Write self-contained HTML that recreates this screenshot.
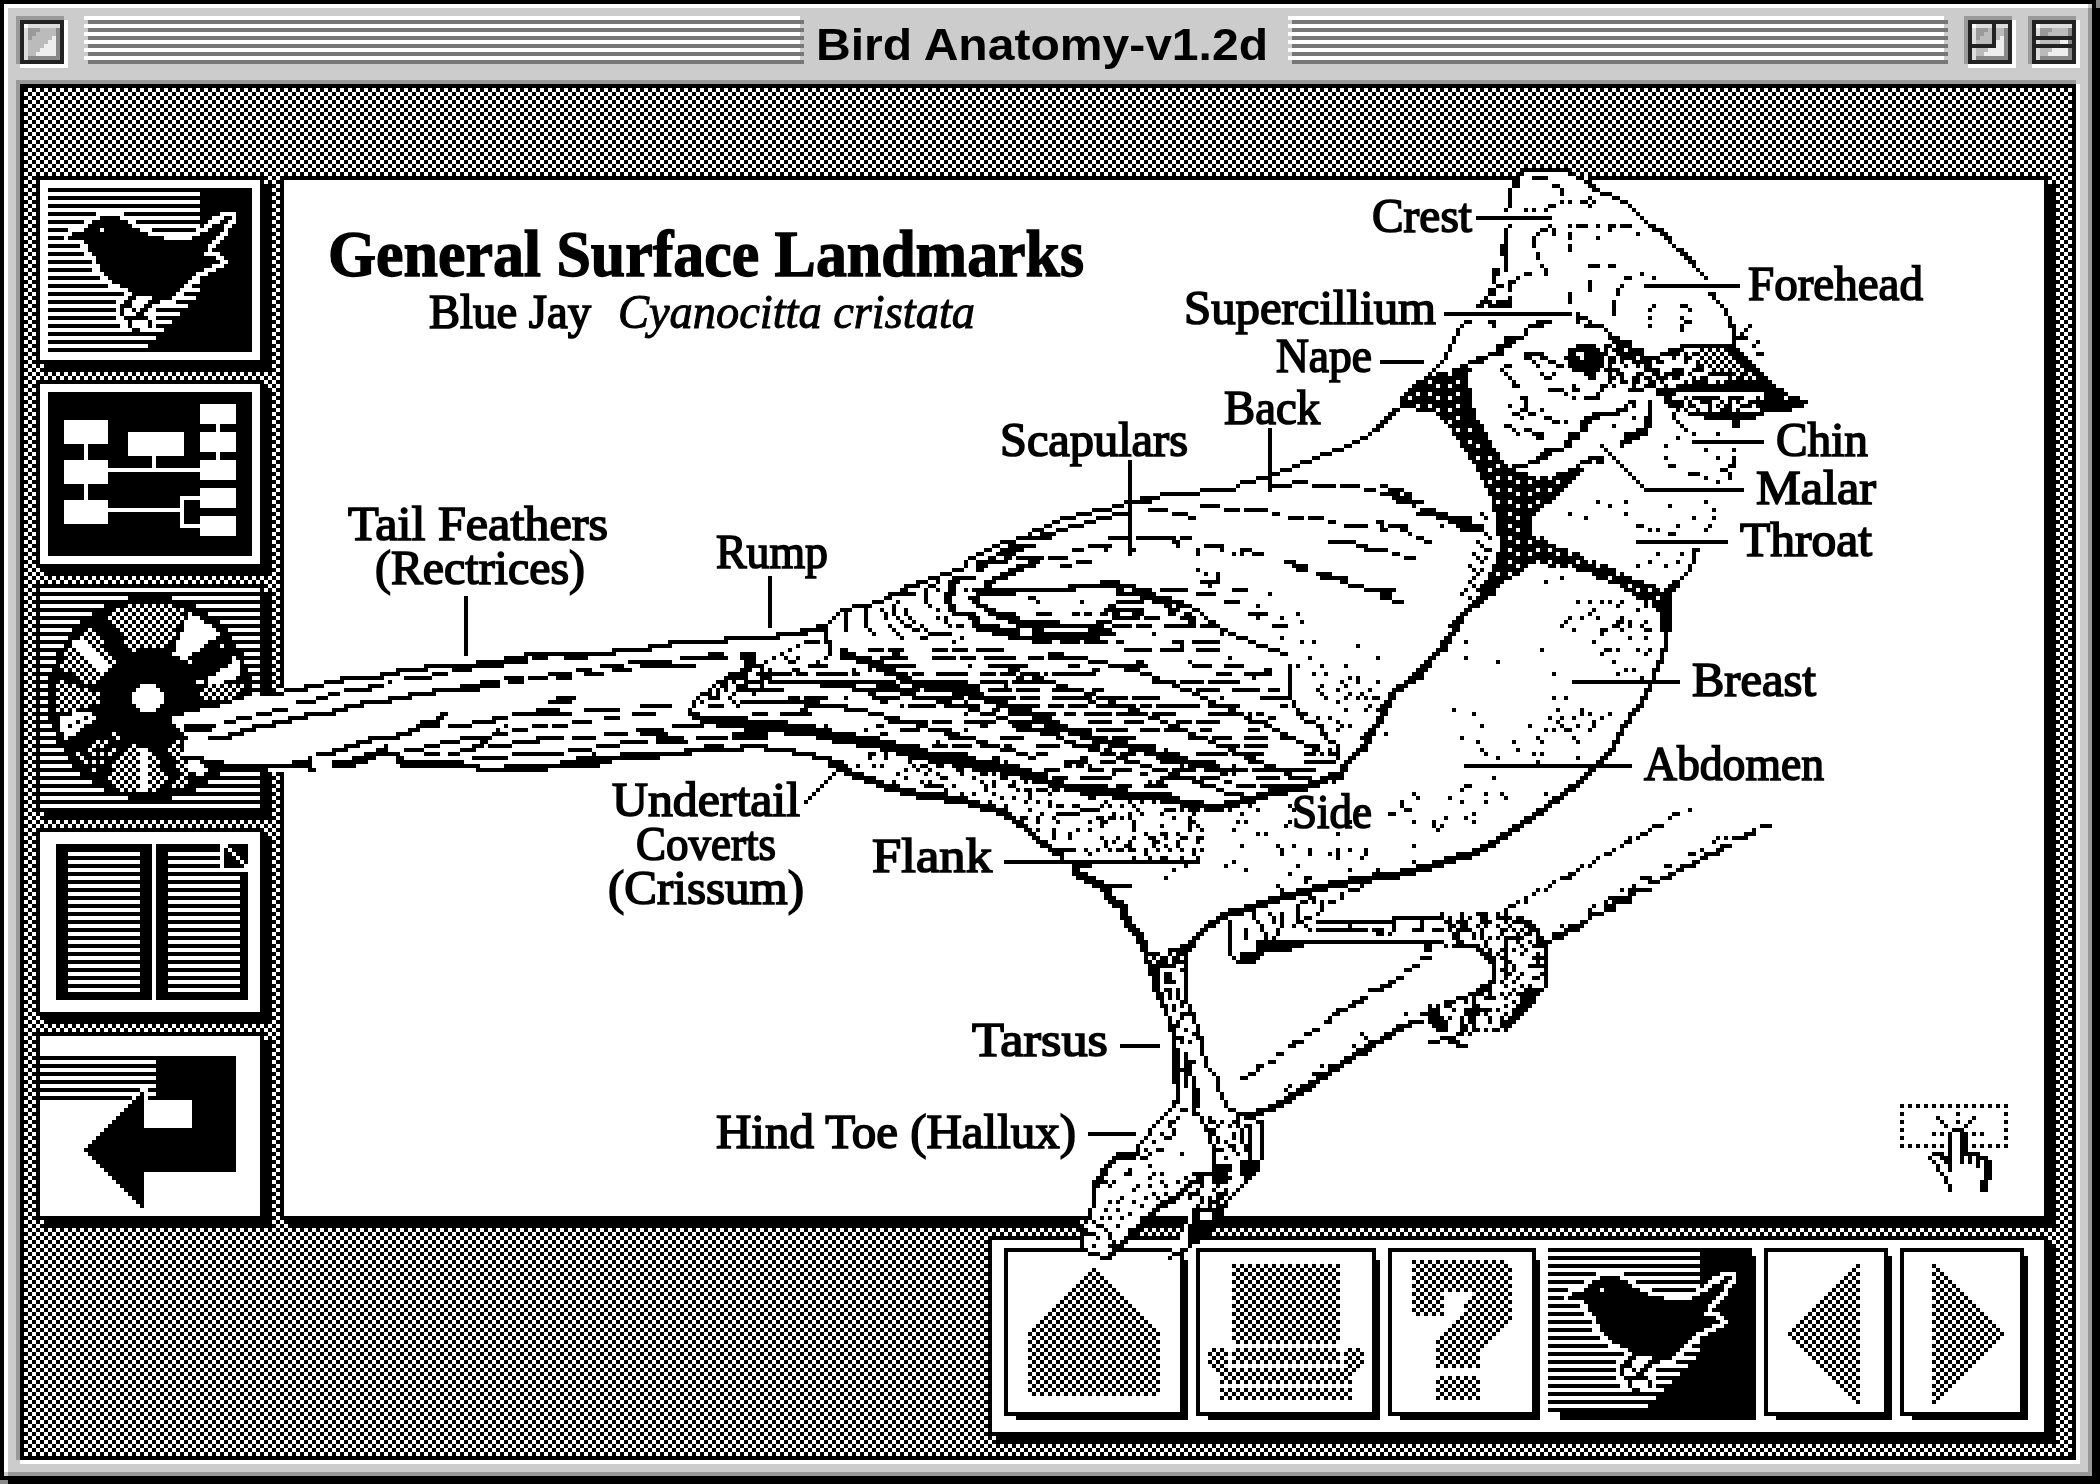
<!DOCTYPE html>
<html lang="en"><head><meta charset="utf-8"><title>Bird Anatomy-v1.2d</title>
<style>
html,body{margin:0;padding:0;background:#000;overflow:hidden}
svg{display:block;filter:grayscale(1)}
text{font-family:"Liberation Serif",serif;fill:#000}
.tb{font-family:"Liberation Sans",sans-serif;font-weight:bold}
</style></head><body>
<svg width="2100" height="1484" viewBox="0 0 525 371" shape-rendering="crispEdges">
<defs>
<pattern id="chk" width="2" height="2" patternUnits="userSpaceOnUse"><rect width="2" height="2" fill="#fff"/><rect width="1" height="1"/><rect x="1" y="1" width="1" height="1"/></pattern>
<pattern id="chk2" width="2" height="2" patternUnits="userSpaceOnUse"><rect width="2" height="2" fill="#fff"/><rect x="1" width="1" height="1"/><rect y="1" width="1" height="1"/></pattern>
<pattern id="chkT" width="2" height="2" patternUnits="userSpaceOnUse"><rect width="1" height="1"/><rect x="1" y="1" width="1" height="1"/></pattern>
<pattern id="chkT2" width="2" height="2" patternUnits="userSpaceOnUse"><rect x="1" width="1" height="1"/><rect y="1" width="1" height="1"/></pattern>
<pattern id="d25" width="2" height="2" patternUnits="userSpaceOnUse"><rect width="1" height="1"/></pattern>
<pattern id="d12" width="4" height="4" patternUnits="userSpaceOnUse"><rect width="1" height="1"/><rect x="2" y="2" width="1" height="1"/></pattern>
<pattern id="d06" width="4" height="4" patternUnits="userSpaceOnUse"><rect x="1" y="1" width="1" height="1"/></pattern>
<pattern id="d03" width="6" height="6" patternUnits="userSpaceOnUse"><rect x="1" y="1" width="1" height="1"/><rect x="4" y="4" width="1" height="1"/></pattern>
<pattern id="wdot" width="3" height="3" patternUnits="userSpaceOnUse"><rect width="3" height="3"/><rect x="1" y="1" width="1" height="1" fill="#fff"/></pattern>
<pattern id="hl" width="2" height="2" patternUnits="userSpaceOnUse"><rect width="2" height="1"/></pattern>
</defs>
<rect x="0" y="0" width="525" height="371" fill="#888"/>
<rect x="2" y="2" width="523" height="369" fill="#000"/>
<rect x="0" y="0" width="524" height="370" fill="#000"/>
<rect x="1" y="1" width="522" height="368" fill="#ccc"/>
<rect x="1" y="1" width="521" height="1" fill="#fff"/>
<rect x="1" y="1" width="1" height="367" fill="#fff"/>
<rect x="2" y="368" width="521" height="1" fill="#999"/>
<rect x="522" y="2" width="1" height="367" fill="#999"/>
<rect x="4" y="20" width="515" height="1" fill="#999"/>
<rect x="4" y="20" width="1" height="345" fill="#999"/>
<rect x="5" y="365" width="515" height="1" fill="#fff"/>
<rect x="519" y="21" width="1" height="345" fill="#fff"/>
<rect x="5" y="21" width="514" height="344" fill="#000"/>
<rect x="6" y="22" width="512" height="342" fill="url(#chk)"/>
<rect x="21" y="4" width="179" height="1" fill="#fff"/>
<rect x="22" y="5" width="179" height="1" fill="#777"/>
<rect x="322" y="4" width="164" height="1" fill="#fff"/>
<rect x="323" y="5" width="164" height="1" fill="#777"/>
<rect x="21" y="6" width="179" height="1" fill="#fff"/>
<rect x="22" y="7" width="179" height="1" fill="#777"/>
<rect x="322" y="6" width="164" height="1" fill="#fff"/>
<rect x="323" y="7" width="164" height="1" fill="#777"/>
<rect x="21" y="8" width="179" height="1" fill="#fff"/>
<rect x="22" y="9" width="179" height="1" fill="#777"/>
<rect x="322" y="8" width="164" height="1" fill="#fff"/>
<rect x="323" y="9" width="164" height="1" fill="#777"/>
<rect x="21" y="10" width="179" height="1" fill="#fff"/>
<rect x="22" y="11" width="179" height="1" fill="#777"/>
<rect x="322" y="10" width="164" height="1" fill="#fff"/>
<rect x="323" y="11" width="164" height="1" fill="#777"/>
<rect x="21" y="12" width="179" height="1" fill="#fff"/>
<rect x="22" y="13" width="179" height="1" fill="#777"/>
<rect x="322" y="12" width="164" height="1" fill="#fff"/>
<rect x="323" y="13" width="164" height="1" fill="#777"/>
<rect x="21" y="14" width="179" height="1" fill="#fff"/>
<rect x="22" y="15" width="179" height="1" fill="#777"/>
<rect x="322" y="14" width="164" height="1" fill="#fff"/>
<rect x="323" y="15" width="164" height="1" fill="#777"/>
<rect x="4" y="4" width="12" height="12" fill="#999"/>
<rect x="5" y="5" width="12" height="12" fill="#fff"/>
<rect x="5" y="5" width="11" height="11" fill="#222"/>
<rect x="6" y="6" width="9" height="9" fill="#bbb"/>
<rect x="6" y="6" width="9" height="1" fill="#ddd"/>
<rect x="6" y="6" width="1" height="9" fill="#ddd"/>
<rect x="6" y="6" width="1" height="1" fill="#fff"/>
<rect x="7" y="14" width="8" height="1" fill="#888"/>
<rect x="14" y="7" width="1" height="8" fill="#888"/>
<path fill="#999" d="M7 7h3v1h-3zM7 8h2v1h-2zM7 9h1v1h-1z" />
<path fill="#eee" d="M13 9h1v1h-1zM12 10h2v1h-2zM11 11h3v1h-3zM10 12h4v1h-4zM9 13h5v1h-5z" />
<rect x="491" y="4" width="12" height="12" fill="#999"/>
<rect x="492" y="5" width="12" height="12" fill="#fff"/>
<rect x="492" y="5" width="11" height="11" fill="#222"/>
<rect x="493" y="6" width="9" height="9" fill="#bbb"/>
<rect x="493" y="6" width="9" height="1" fill="#ddd"/>
<rect x="493" y="6" width="1" height="9" fill="#ddd"/>
<rect x="493" y="6" width="1" height="1" fill="#fff"/>
<rect x="494" y="14" width="8" height="1" fill="#888"/>
<rect x="501" y="7" width="1" height="8" fill="#888"/>
<path fill="#999" d="M494 7h3v1h-3zM494 8h2v1h-2zM494 9h1v1h-1z" />
<path fill="#eee" d="M500 9h1v1h-1zM499 10h2v1h-2zM498 11h3v1h-3zM497 12h4v1h-4zM496 13h5v1h-5z" />
<rect x="498" y="6" width="1" height="6" fill="#222"/>
<rect x="493" y="11" width="6" height="1" fill="#222"/>
<rect x="507" y="4" width="12" height="12" fill="#999"/>
<rect x="508" y="5" width="12" height="12" fill="#fff"/>
<rect x="508" y="5" width="11" height="11" fill="#222"/>
<rect x="509" y="6" width="9" height="9" fill="#bbb"/>
<rect x="509" y="6" width="9" height="1" fill="#ddd"/>
<rect x="509" y="6" width="1" height="9" fill="#ddd"/>
<rect x="509" y="6" width="1" height="1" fill="#fff"/>
<rect x="510" y="14" width="8" height="1" fill="#888"/>
<rect x="517" y="7" width="1" height="8" fill="#888"/>
<path fill="#999" d="M510 7h3v1h-3zM510 8h2v1h-2zM510 9h1v1h-1z" />
<path fill="#eee" d="M516 9h1v1h-1zM515 10h2v1h-2zM514 11h3v1h-3zM513 12h4v1h-4zM512 13h5v1h-5z" />
<rect x="509" y="9" width="9" height="1" fill="#222"/>
<rect x="509" y="11" width="9" height="1" fill="#222"/>
<text class="tb" x="260.5" y="15" font-size="11" text-anchor="middle" textLength="113" lengthAdjust="spacingAndGlyphs">Bird Anatomy-v1.2d</text>
<rect x="11" y="46" width="57" height="47" fill="#000"/>
<rect x="9" y="44" width="57" height="47" fill="#000"/>
<rect x="10" y="45" width="55" height="45" fill="#fff"/>
<rect x="12" y="47" width="51" height="41" fill="#000"/>
<path fill="#fff" d="M12 48h38v1h-38zM12 50h38v1h-38zM12 52h38v1h-38zM24 53h7v1h-7zM55 53h4v1h-4zM12 54h13v1h-13zM30 54h20v1h-20zM53 54h3v1h-3zM58 54h1v1h-1zM21 55h2v1h-2zM32 55h2v1h-2zM52 55h3v1h-3zM57 55h2v1h-2zM12 56h10v1h-10zM33 56h17v1h-17zM51 56h2v1h-2zM56 56h2v1h-2zM17 57h4v1h-4zM25 57h1v1h-1zM35 57h3v1h-3zM49 57h3v1h-3zM56 57h1v1h-1zM12 58h6v1h-6zM37 58h13v1h-13zM55 58h2v1h-2zM16 59h1v1h-1zM41 59h7v1h-7zM54 59h2v1h-2zM12 60h9v1h-9zM53 60h2v1h-2zM20 61h2v1h-2zM52 61h2v1h-2zM12 62h10v1h-10zM52 62h1v1h-1zM21 63h2v1h-2zM51 63h4v1h-4zM12 64h12v1h-12zM54 64h2v1h-2zM23 65h1v1h-1zM55 65h2v1h-2zM12 66h13v1h-13zM53 66h3v1h-3zM23 67h2v1h-2zM51 67h3v1h-3zM12 68h14v1h-14zM49 68h3v1h-3zM25 69h2v1h-2zM48 69h2v1h-2zM12 70h16v1h-16zM47 70h3v1h-3zM27 71h3v1h-3zM46 71h2v1h-2zM12 72h20v1h-20zM45 72h5v1h-5zM31 73h2v1h-2zM44 73h2v1h-2zM12 74h20v1h-20zM34 74h4v1h-4zM43 74h6v1h-6zM29 75h2v1h-2zM33 75h4v1h-4zM40 75h4v1h-4zM12 76h18v1h-18zM33 76h3v1h-3zM38 76h9v1h-9zM29 77h1v1h-1zM31 77h2v1h-2zM34 77h1v1h-1zM37 77h2v1h-2zM12 78h18v1h-18zM31 78h3v1h-3zM36 78h9v1h-9zM29 79h2v1h-2zM37 79h2v1h-2zM12 80h20v1h-20zM33 80h4v1h-4zM38 80h5v1h-5zM30 81h2v1h-2zM33 81h4v1h-4zM38 81h1v1h-1zM12 82h21v1h-21zM35 82h6v1h-6zM12 84h27v1h-27zM12 86h25v1h-25z"/>
<rect x="11" y="97" width="57" height="47" fill="#000"/>
<rect x="9" y="95" width="57" height="47" fill="#000"/>
<rect x="10" y="96" width="55" height="45" fill="#fff"/>
<rect x="12" y="98" width="51" height="41" fill="#000"/>
<rect x="16" y="105" width="11" height="6" fill="#fff"/>
<rect x="16" y="115" width="11" height="6" fill="#fff"/>
<rect x="16" y="125" width="11" height="6" fill="#fff"/>
<rect x="21" y="111" width="1" height="4" fill="#fff"/>
<rect x="21" y="121" width="1" height="4" fill="#fff"/>
<rect x="32" y="108" width="14" height="6" fill="#fff"/>
<rect x="38" y="114" width="1" height="3" fill="#fff"/>
<rect x="27" y="117" width="23" height="1" fill="#fff"/>
<rect x="50" y="101" width="9" height="5" fill="#fff"/>
<rect x="50" y="108" width="9" height="5" fill="#fff"/>
<rect x="50" y="115" width="9" height="5" fill="#fff"/>
<rect x="50" y="122" width="9" height="5" fill="#fff"/>
<rect x="50" y="129" width="9" height="5" fill="#fff"/>
<rect x="54" y="106" width="1" height="2" fill="#fff"/>
<rect x="54" y="113" width="1" height="2" fill="#fff"/>
<rect x="27" y="127" width="18" height="1" fill="#fff"/>
<rect x="45" y="124" width="1" height="8" fill="#fff"/>
<rect x="45" y="124" width="5" height="1" fill="#fff"/>
<rect x="45" y="131" width="5" height="1" fill="#fff"/>
<rect x="11" y="148" width="57" height="57" fill="#000"/>
<rect x="9" y="146" width="57" height="57" fill="#000"/>
<path fill="#fff" d="M10 147h55v1h-55zM10 149h22v1h-22zM43 149h22v1h-22zM10 151h16v1h-16zM49 151h16v1h-16zM10 153h13v1h-13zM52 153h13v1h-13zM10 155h10v1h-10zM55 155h10v1h-10zM10 157h8v1h-8zM57 157h8v1h-8zM10 159h7v1h-7zM58 159h7v1h-7zM10 161h6v1h-6zM59 161h6v1h-6zM10 163h4v1h-4zM61 163h4v1h-4zM10 165h4v1h-4zM61 165h4v1h-4zM10 167h3v1h-3zM62 167h3v1h-3zM10 169h2v1h-2zM63 169h2v1h-2zM10 171h2v1h-2zM63 171h2v1h-2zM10 173h2v1h-2zM63 173h2v1h-2zM10 175h2v1h-2zM63 175h2v1h-2zM10 177h2v1h-2zM63 177h2v1h-2zM10 179h2v1h-2zM63 179h2v1h-2zM10 181h3v1h-3zM62 181h3v1h-3zM10 183h4v1h-4zM61 183h4v1h-4zM10 185h4v1h-4zM61 185h4v1h-4zM10 187h6v1h-6zM59 187h6v1h-6zM10 189h7v1h-7zM58 189h7v1h-7zM10 191h8v1h-8zM57 191h8v1h-8zM10 193h10v1h-10zM55 193h10v1h-10zM10 195h13v1h-13zM52 195h13v1h-13zM10 197h16v1h-16zM49 197h16v1h-16zM10 199h22v1h-22zM43 199h22v1h-22zM10 201h55v1h-55z"/>
<path fill="url(#chk)" d="M31 151h13v1h-13zM28 152h18v1h-18zM27 153h19v1h-19zM27 154h19v1h-19zM27 155h18v1h-18zM28 156h17v1h-17zM29 157h15v1h-15zM30 158h14v1h-14zM31 159h12v1h-12zM31 160h11v1h-11zM32 161h9v1h-9zM33 162h1v1h-1z" />
<path fill="#fff" d="M47 153h1v1h-1zM47 154h3v1h-3zM46 155h5v1h-5zM46 156h7v1h-7zM46 157h8v1h-8zM45 158h10v1h-10zM45 159h9v1h-9zM44 160h8v1h-8zM44 161h7v1h-7zM44 162h6v1h-6zM43 163h5v1h-5zM45 164h2v1h-2z" />
<rect x="47" y="165" width="1" height="1" fill="#fff"/>
<rect x="55" y="161" width="1" height="1" fill="#fff"/>
<path fill="url(#chk)" d="M21 157h2v1h-2zM20 158h4v1h-4zM19 159h6v1h-6zM18 160h8v1h-8zM17 161h9v1h-9zM17 162h10v1h-10zM16 163h12v1h-12zM16 164h13v1h-13zM15 165h14v1h-14zM15 166h13v1h-13zM16 167h11v1h-11zM18 168h8v1h-8zM19 169h7v1h-7zM21 170h4v1h-4z" />
<path fill="#fff" d="M18 160h3v1h-3zM18 161h4v1h-4zM19 162h4v1h-4zM21 163h3v1h-3zM22 164h3v1h-3zM23 165h3v1h-3zM24 166h3v1h-3zM25 167h2v1h-2z" />
<path fill="url(#chk)" d="M14 170h3v1h-3zM14 171h6v1h-6zM14 172h9v1h-9zM14 173h11v1h-11zM14 174h11v1h-11zM14 175h11v1h-11zM14 176h9v1h-9zM14 177h5v1h-5z" />
<path fill="#fff" d="M18 178h5v1h-5zM15 179h9v1h-9zM15 180h8v1h-8zM15 181h6v1h-6zM15 182h5v1h-5zM16 183h3v1h-3zM16 184h1v1h-1z" />
<rect x="21" y="179" width="1" height="1" fill="#000"/>
<rect x="19" y="180" width="1" height="1" fill="#000"/>
<rect x="17" y="181" width="1" height="1" fill="#000"/>
<path fill="#fff" d="M35 171h4v1h-4zM34 172h6v1h-6zM33 173h8v1h-8zM33 174h8v1h-8zM33 175h8v1h-8zM34 176h6v1h-6zM35 177h4v1h-4z"/>
<path fill="url(#chk)" d="M32 186h3v1h-3zM31 187h6v1h-6zM30 188h8v1h-8zM30 189h9v1h-9zM29 190h11v1h-11zM28 191h12v1h-12zM28 192h13v1h-13zM27 193h15v1h-15zM27 194h15v1h-15zM27 195h15v1h-15zM28 196h13v1h-13zM29 197h11v1h-11z" />
<rect x="35" y="187" width="2" height="11" fill="#fff"/>
<rect x="34" y="197" width="3" height="1" fill="#fff"/>
<rect x="28" y="183" width="1" height="1" fill="#fff"/>
<rect x="29" y="184" width="1" height="1" fill="#fff"/>
<rect x="24" y="185" width="1" height="1" fill="#fff"/>
<rect x="26" y="185" width="1" height="1" fill="#fff"/>
<rect x="23" y="186" width="1" height="1" fill="#fff"/>
<rect x="25" y="186" width="1" height="1" fill="#fff"/>
<rect x="22" y="187" width="1" height="1" fill="#fff"/>
<rect x="28" y="187" width="1" height="1" fill="#fff"/>
<rect x="19" y="188" width="1" height="1" fill="#fff"/>
<rect x="23" y="188" width="1" height="1" fill="#fff"/>
<rect x="25" y="188" width="1" height="1" fill="#fff"/>
<rect x="27" y="188" width="1" height="1" fill="#fff"/>
<rect x="20" y="189" width="1" height="1" fill="#fff"/>
<rect x="21" y="190" width="1" height="1" fill="#fff"/>
<rect x="23" y="190" width="1" height="1" fill="#fff"/>
<rect x="25" y="190" width="1" height="1" fill="#fff"/>
<rect x="23" y="192" width="1" height="1" fill="#fff"/>
<path fill="url(#chk)" d="M43 185h2v1h-2zM42 186h3v1h-3zM42 187h4v1h-4zM43 188h3v1h-3zM43 189h3v1h-3zM44 190h3v1h-3zM44 191h3v1h-3zM45 192h3v1h-3zM45 193h3v1h-3zM44 194h3v1h-3zM44 195h3v1h-3zM43 196h3v1h-3z" />
<path fill="#fff" d="M47 190h3v1h-3zM47 191h4v1h-4zM48 192h4v1h-4zM49 193h2v1h-2z" />
<path fill="#fff" d="M58 164h1v1h-1zM58 165h2v1h-2zM57 166h3v1h-3zM56 167h4v1h-4zM55 168h5v1h-5zM53 169h6v1h-6zM52 170h4v1h-4z" />
<rect x="57" y="166" width="1" height="1" fill="#fff"/>
<rect x="55" y="167" width="1" height="1" fill="#fff"/>
<rect x="56" y="168" width="1" height="1" fill="#fff"/>
<rect x="54" y="168" width="1" height="1" fill="#fff"/>
<rect x="52" y="169" width="1" height="1" fill="#fff"/>
<rect x="49" y="170" width="1" height="1" fill="#fff"/>
<rect x="50" y="170" width="1" height="1" fill="#fff"/>
<rect x="51" y="171" width="1" height="1" fill="#fff"/>
<path fill="url(#chk)" d="M51 171h10v1h-10zM50 172h11v1h-11zM50 173h10v1h-10zM51 174h8v1h-8z" />
<rect x="11" y="209" width="57" height="47" fill="#000"/>
<rect x="9" y="207" width="57" height="47" fill="#000"/>
<rect x="10" y="208" width="55" height="45" fill="#fff"/>
<rect x="14" y="211" width="24" height="39" fill="#000"/>
<rect x="39" y="211" width="23" height="39" fill="#000"/>
<rect x="17" y="213" width="18" height="1" fill="#fff"/>
<rect x="42" y="213" width="13" height="1" fill="#fff"/>
<rect x="17" y="215" width="18" height="1" fill="#fff"/>
<rect x="42" y="215" width="13" height="1" fill="#fff"/>
<rect x="17" y="217" width="18" height="1" fill="#fff"/>
<rect x="42" y="217" width="13" height="1" fill="#fff"/>
<rect x="17" y="219" width="18" height="1" fill="#fff"/>
<rect x="42" y="219" width="18" height="1" fill="#fff"/>
<rect x="17" y="221" width="18" height="1" fill="#fff"/>
<rect x="42" y="221" width="18" height="1" fill="#fff"/>
<rect x="17" y="223" width="18" height="1" fill="#fff"/>
<rect x="42" y="223" width="18" height="1" fill="#fff"/>
<rect x="17" y="225" width="18" height="1" fill="#fff"/>
<rect x="42" y="225" width="18" height="1" fill="#fff"/>
<rect x="17" y="227" width="18" height="1" fill="#fff"/>
<rect x="42" y="227" width="18" height="1" fill="#fff"/>
<rect x="17" y="229" width="18" height="1" fill="#fff"/>
<rect x="42" y="229" width="18" height="1" fill="#fff"/>
<rect x="17" y="231" width="18" height="1" fill="#fff"/>
<rect x="42" y="231" width="18" height="1" fill="#fff"/>
<rect x="17" y="233" width="18" height="1" fill="#fff"/>
<rect x="42" y="233" width="18" height="1" fill="#fff"/>
<rect x="17" y="235" width="18" height="1" fill="#fff"/>
<rect x="42" y="235" width="18" height="1" fill="#fff"/>
<rect x="17" y="237" width="18" height="1" fill="#fff"/>
<rect x="42" y="237" width="18" height="1" fill="#fff"/>
<rect x="17" y="239" width="18" height="1" fill="#fff"/>
<rect x="42" y="239" width="18" height="1" fill="#fff"/>
<rect x="17" y="241" width="18" height="1" fill="#fff"/>
<rect x="42" y="241" width="18" height="1" fill="#fff"/>
<rect x="17" y="243" width="18" height="1" fill="#fff"/>
<rect x="42" y="243" width="18" height="1" fill="#fff"/>
<rect x="17" y="245" width="18" height="1" fill="#fff"/>
<rect x="42" y="245" width="18" height="1" fill="#fff"/>
<rect x="17" y="247" width="18" height="1" fill="#fff"/>
<rect x="42" y="247" width="18" height="1" fill="#fff"/>
<rect x="55" y="211" width="7" height="7" fill="#fff"/>
<rect x="56" y="211" width="6" height="6" fill="#000"/>
<rect x="56" y="211" width="1" height="1" fill="#fff"/>
<rect x="57" y="212" width="1" height="1" fill="#fff"/>
<rect x="58" y="213" width="1" height="1" fill="#fff"/>
<rect x="59" y="214" width="1" height="1" fill="#fff"/>
<rect x="60" y="215" width="1" height="1" fill="#fff"/>
<rect x="61" y="216" width="1" height="1" fill="#fff"/>
<rect x="11" y="260" width="57" height="47" fill="#000"/>
<rect x="9" y="258" width="57" height="47" fill="#000"/>
<rect x="10" y="259" width="55" height="45" fill="#fff"/>
<rect x="10" y="264" width="29" height="1" fill="#000"/>
<rect x="10" y="266" width="29" height="1" fill="#000"/>
<rect x="10" y="268" width="29" height="1" fill="#000"/>
<rect x="10" y="270" width="29" height="1" fill="#000"/>
<rect x="10" y="272" width="29" height="1" fill="#000"/>
<rect x="10" y="274" width="29" height="1" fill="#000"/>
<rect x="39" y="264" width="20" height="11" fill="#000"/>
<rect x="48" y="264" width="11" height="29" fill="#000"/>
<rect x="36" y="282" width="23" height="11" fill="#000"/>
<path fill="#fff" d="M35 272h1v1h-1zM34 273h2v1h-2zM33 274h3v1h-3zM32 275h4v1h-4zM31 276h5v1h-5zM30 277h6v1h-6zM29 278h7v1h-7zM28 279h8v1h-8zM27 280h9v1h-9zM26 281h10v1h-10zM25 282h11v1h-11zM24 283h12v1h-12zM23 284h13v1h-13zM22 285h14v1h-14zM21 286h15v1h-15zM20 287h16v1h-16zM21 288h15v1h-15zM22 289h14v1h-14zM23 290h13v1h-13zM24 291h12v1h-12zM25 292h11v1h-11zM26 293h10v1h-10zM27 294h9v1h-9zM28 295h8v1h-8zM29 296h7v1h-7zM30 297h6v1h-6zM31 298h5v1h-5zM32 299h4v1h-4zM33 300h3v1h-3zM34 301h2v1h-2zM35 302h1v1h-1z" />
<rect x="35" y="271" width="2" height="5" fill="#fff"/>
<path fill="#000" d="M35 273h1v29h-1zM34 274h1v27h-1zM33 275h1v25h-1zM32 276h1v23h-1zM31 277h1v21h-1zM30 278h1v19h-1zM29 279h1v17h-1zM28 280h1v15h-1zM27 281h1v13h-1zM26 282h1v11h-1zM25 283h1v9h-1zM24 284h1v7h-1zM23 285h1v5h-1zM22 286h1v3h-1zM21 287h1v1h-1z"/>
<rect x="72" y="46" width="442" height="261" fill="#000"/>
<rect x="70" y="44" width="442" height="261" fill="#000"/>
<rect x="71" y="45" width="440" height="259" fill="#fff"/>
<text x="82.0" y="69.0" font-size="16.6" font-weight="bold" font-style="normal" textLength="189.0" lengthAdjust="spacingAndGlyphs" stroke="#000" stroke-width="0.35">General Surface Landmarks</text>
<text x="107.25" y="82.0" font-size="12.2" font-weight="normal" font-style="normal" textLength="40.5" lengthAdjust="spacingAndGlyphs" stroke="#000" stroke-width="0.42">Blue Jay</text>
<text x="154.5" y="82.0" font-size="12.2" font-weight="normal" font-style="italic" textLength="89.25" lengthAdjust="spacingAndGlyphs" stroke="#000" stroke-width="0.25">Cyanocitta cristata</text>
<text x="343.0" y="58.0" font-size="12.2" font-weight="normal" font-style="normal" textLength="25.0" lengthAdjust="spacingAndGlyphs" stroke="#000" stroke-width="0.42">Crest</text>
<text x="437.0" y="75.0" font-size="12.2" font-weight="normal" font-style="normal" textLength="43.75" lengthAdjust="spacingAndGlyphs" stroke="#000" stroke-width="0.42">Forehead</text>
<text x="296.0" y="81.0" font-size="12.2" font-weight="normal" font-style="normal" textLength="63.0" lengthAdjust="spacingAndGlyphs" stroke="#000" stroke-width="0.42">Supercillium</text>
<text x="319.0" y="93.0" font-size="12.2" font-weight="normal" font-style="normal" textLength="24.0" lengthAdjust="spacingAndGlyphs" stroke="#000" stroke-width="0.42">Nape</text>
<text x="306.0" y="106.0" font-size="12.2" font-weight="normal" font-style="normal" textLength="24.0" lengthAdjust="spacingAndGlyphs" stroke="#000" stroke-width="0.42">Back</text>
<text x="250.0" y="114.0" font-size="12.2" font-weight="normal" font-style="normal" textLength="47.0" lengthAdjust="spacingAndGlyphs" stroke="#000" stroke-width="0.42">Scapulars</text>
<text x="87.0" y="135.0" font-size="12.2" font-weight="normal" font-style="normal" textLength="65.0" lengthAdjust="spacingAndGlyphs" stroke="#000" stroke-width="0.42">Tail Feathers</text>
<text x="93.75" y="146.0" font-size="12.2" font-weight="normal" font-style="normal" textLength="52.5" lengthAdjust="spacingAndGlyphs" stroke="#000" stroke-width="0.42">(Rectrices)</text>
<text x="179.0" y="142.0" font-size="12.2" font-weight="normal" font-style="normal" textLength="28.0" lengthAdjust="spacingAndGlyphs" stroke="#000" stroke-width="0.42">Rump</text>
<text x="444.0" y="114.0" font-size="12.2" font-weight="normal" font-style="normal" textLength="23.0" lengthAdjust="spacingAndGlyphs" stroke="#000" stroke-width="0.42">Chin</text>
<text x="439.0" y="126.0" font-size="12.2" font-weight="normal" font-style="normal" textLength="30.0" lengthAdjust="spacingAndGlyphs" stroke="#000" stroke-width="0.42">Malar</text>
<text x="435.0" y="139.0" font-size="12.2" font-weight="normal" font-style="normal" textLength="33.0" lengthAdjust="spacingAndGlyphs" stroke="#000" stroke-width="0.42">Throat</text>
<text x="423.0" y="174.0" font-size="12.2" font-weight="normal" font-style="normal" textLength="31.0" lengthAdjust="spacingAndGlyphs" stroke="#000" stroke-width="0.42">Breast</text>
<text x="411.0" y="195.0" font-size="12.2" font-weight="normal" font-style="normal" textLength="45.0" lengthAdjust="spacingAndGlyphs" stroke="#000" stroke-width="0.42">Abdomen</text>
<text x="323.0" y="207.0" font-size="12.2" font-weight="normal" font-style="normal" textLength="20.0" lengthAdjust="spacingAndGlyphs" stroke="#000" stroke-width="0.42">Side</text>
<text x="153.0" y="204.0" font-size="12.2" font-weight="normal" font-style="normal" textLength="47.0" lengthAdjust="spacingAndGlyphs" stroke="#000" stroke-width="0.42">Undertail</text>
<text x="159.0" y="215.0" font-size="12.2" font-weight="normal" font-style="normal" textLength="35.0" lengthAdjust="spacingAndGlyphs" stroke="#000" stroke-width="0.42">Coverts</text>
<text x="152.0" y="226.0" font-size="12.2" font-weight="normal" font-style="normal" textLength="49.0" lengthAdjust="spacingAndGlyphs" stroke="#000" stroke-width="0.42">(Crissum)</text>
<text x="218.0" y="218.0" font-size="12.2" font-weight="normal" font-style="normal" textLength="30.0" lengthAdjust="spacingAndGlyphs" stroke="#000" stroke-width="0.42">Flank</text>
<text x="243.0" y="264.0" font-size="12.2" font-weight="normal" font-style="normal" textLength="34.0" lengthAdjust="spacingAndGlyphs" stroke="#000" stroke-width="0.42">Tarsus</text>
<text x="179.0" y="287.0" font-size="12.2" font-weight="normal" font-style="normal" textLength="90.0" lengthAdjust="spacingAndGlyphs" stroke="#000" stroke-width="0.42">Hind Toe (Hallux)</text>
<rect x="369" y="54" width="19" height="1" fill="#000"/>
<rect x="411" y="71" width="24" height="1" fill="#000"/>
<rect x="361" y="78" width="32" height="1" fill="#000"/>
<rect x="345" y="90" width="11" height="1" fill="#000"/>
<rect x="423" y="110" width="18" height="1" fill="#000"/>
<rect x="411" y="122" width="25" height="1" fill="#000"/>
<rect x="409" y="135" width="23" height="1" fill="#000"/>
<rect x="393" y="170" width="27" height="1" fill="#000"/>
<rect x="366" y="191" width="42" height="1" fill="#000"/>
<rect x="251" y="215" width="48" height="1" fill="#000"/>
<rect x="280" y="261" width="10" height="1" fill="#000"/>
<rect x="272" y="283" width="12" height="1" fill="#000"/>
<rect x="317" y="107" width="1" height="16" fill="#000"/>
<rect x="282" y="115" width="1" height="23" fill="#000"/>
<rect x="116" y="149" width="1" height="15" fill="#000"/>
<rect x="192" y="144" width="1" height="13" fill="#000"/>
<path fill="#000" d="M400 111h1v1h-1zM401 112h1v1h-1zM402 113h1v1h-1zM403 114h1v1h-1zM404 115h1v1h-1zM405 116h1v1h-1zM406 117h1v1h-1zM407 118h1v1h-1zM408 119h1v1h-1zM409 120h1v1h-1zM410 121h1v1h-1zM411 122h1v1h-1z"/>
<rect x="201" y="200" width="1" height="1" fill="#000"/>
<rect x="202" y="199" width="1" height="1" fill="#000"/>
<rect x="203" y="198" width="1" height="1" fill="#000"/>
<rect x="204" y="197" width="1" height="1" fill="#000"/>
<rect x="205" y="196" width="1" height="1" fill="#000"/>
<rect x="206" y="195" width="1" height="1" fill="#000"/>
<rect x="207" y="194" width="1" height="1" fill="#000"/>
<rect x="208" y="193" width="1" height="1" fill="#000"/>
<path d="M475 276h1v1h-1zM477 276h1v1h-1zM479 276h1v1h-1zM481 276h1v1h-1zM483 276h1v1h-1zM485 276h1v1h-1zM487 276h1v1h-1zM489 276h1v1h-1zM491 276h1v1h-1zM493 276h1v1h-1zM495 276h1v1h-1zM497 276h1v1h-1zM499 276h1v1h-1zM501 276h1v1h-1zM475 286h1v1h-1zM477 286h1v1h-1zM479 286h1v1h-1zM481 286h1v1h-1zM483 286h1v1h-1zM485 286h1v1h-1zM493 286h1v1h-1zM495 286h1v1h-1zM497 286h1v1h-1zM499 286h1v1h-1zM501 286h1v1h-1zM475 278h1v1h-1zM501 278h1v1h-1zM475 280h1v1h-1zM501 280h1v1h-1zM475 282h1v1h-1zM501 282h1v1h-1zM475 284h1v1h-1zM501 284h1v1h-1zM489 278h1v1h-1zM489 280h1v1h-1zM484 279h1v1h-1zM485 280h1v1h-1zM486 281h1v1h-1zM493 279h1v1h-1zM492 280h1v1h-1zM491 281h1v1h-1zM483 283h1v1h-1zM485 283h1v1h-1zM493 283h1v1h-1zM495 283h1v1h-1zM488 282h1v1h-1zM489 282h1v1h-1zM490 282h1v1h-1zM487 283h1v1h-1zM490 283h1v1h-1zM491 283h1v1h-1zM487 284h1v1h-1zM490 284h1v1h-1zM491 284h1v1h-1zM487 285h1v1h-1zM490 285h1v1h-1zM491 285h1v1h-1zM487 286h1v1h-1zM490 286h1v1h-1zM491 286h1v1h-1zM487 287h1v1h-1zM490 287h1v1h-1zM491 287h1v1h-1zM483 288h1v1h-1zM484 288h1v1h-1zM485 288h1v1h-1zM487 288h1v1h-1zM490 288h1v1h-1zM491 288h1v1h-1zM492 288h1v1h-1zM493 288h1v1h-1zM494 288h1v1h-1zM482 289h1v1h-1zM485 289h1v1h-1zM486 289h1v1h-1zM487 289h1v1h-1zM490 289h1v1h-1zM492 289h1v1h-1zM494 289h1v1h-1zM495 289h1v1h-1zM496 289h1v1h-1zM483 290h1v1h-1zM486 290h1v1h-1zM487 290h1v1h-1zM490 290h1v1h-1zM492 290h1v1h-1zM494 290h1v1h-1zM496 290h1v1h-1zM497 290h1v1h-1zM484 291h1v1h-1zM487 291h1v1h-1zM494 291h1v1h-1zM496 291h1v1h-1zM497 291h1v1h-1zM484 292h1v1h-1zM487 292h1v1h-1zM496 292h1v1h-1zM497 292h1v1h-1zM485 293h1v1h-1zM496 293h1v1h-1zM497 293h1v1h-1zM486 294h1v1h-1zM496 294h1v1h-1zM497 294h1v1h-1zM486 295h1v1h-1zM495 295h1v1h-1zM496 295h1v1h-1zM487 296h1v1h-1zM495 296h1v1h-1zM496 296h1v1h-1zM487 297h1v1h-1zM495 297h1v1h-1zM496 297h1v1h-1z"/>
<rect x="249" y="311" width="265" height="50" fill="#000"/>
<rect x="247" y="309" width="265" height="50" fill="#000"/>
<rect x="248" y="310" width="263" height="48" fill="#fff"/>
<rect x="254" y="315" width="43" height="40" fill="#000"/>
<rect x="251" y="312" width="45" height="42" fill="#000"/>
<rect x="252" y="313" width="43" height="40" fill="#fff"/>
<rect x="302" y="315" width="43" height="40" fill="#000"/>
<rect x="299" y="312" width="45" height="42" fill="#000"/>
<rect x="300" y="313" width="43" height="40" fill="#fff"/>
<rect x="350" y="315" width="35" height="40" fill="#000"/>
<rect x="347" y="312" width="37" height="42" fill="#000"/>
<rect x="348" y="313" width="35" height="40" fill="#fff"/>
<rect x="444" y="314" width="29" height="41" fill="#000"/>
<rect x="441" y="312" width="31" height="42" fill="#000"/>
<rect x="442" y="313" width="29" height="40" fill="#fff"/>
<rect x="478" y="314" width="29" height="41" fill="#000"/>
<rect x="475" y="312" width="31" height="42" fill="#000"/>
<rect x="476" y="313" width="29" height="40" fill="#fff"/>
<path fill="url(#chk)" d="M273 317h1v1h-1zM272 318h3v1h-3zM271 319h5v1h-5zM270 320h7v1h-7zM269 321h9v1h-9zM268 322h11v1h-11zM267 323h13v1h-13zM266 324h15v1h-15zM265 325h17v1h-17zM264 326h19v1h-19zM263 327h21v1h-21zM262 328h23v1h-23zM261 329h25v1h-25zM260 330h27v1h-27zM259 331h29v1h-29zM258 332h31v1h-31zM257 333h33v1h-33zM257 334h33v15h-33z"/>
<rect x="308" y="316" width="27" height="20" fill="url(#chk)"/>
<rect x="302" y="337" width="5" height="5" fill="url(#chk)"/>
<rect x="308" y="337" width="27" height="4" fill="url(#chk)"/>
<rect x="336" y="337" width="5" height="5" fill="url(#chk)"/>
<rect x="303" y="342" width="37" height="1" fill="url(#chk)"/>
<rect x="305" y="342" width="33" height="4" fill="url(#chk)"/>
<rect x="305" y="347" width="33" height="3" fill="url(#chk)"/>
<path fill="url(#chk)" d="M353 315h24v1h-24zM353 316h25v1h-25zM353 317h25v1h-25zM353 318h25v1h-25zM353 319h25v1h-25zM353 320h25v1h-25zM353 321h25v1h-25zM353 322h25v1h-25zM353 323h8v1h-8zM369 323h9v1h-9zM353 324h8v1h-8zM368 324h10v1h-10zM353 325h8v1h-8zM367 325h11v1h-11zM353 326h8v1h-8zM366 326h12v1h-12zM353 327h8v1h-8zM366 327h12v1h-12zM353 328h8v1h-8zM365 328h13v1h-13zM364 329h14v1h-14zM363 330h14v1h-14zM362 331h14v1h-14zM362 332h13v1h-13zM361 333h13v1h-13zM360 334h13v1h-13zM359 335h13v1h-13zM359 336h12v1h-12zM359 337h11v1h-11zM359 338h11v1h-11zM359 339h11v1h-11zM359 340h11v1h-11zM359 341h11v1h-11z" />
<rect x="359" y="344" width="11" height="6" fill="url(#chk)"/>
<rect x="390" y="353" width="49" height="2" fill="#000"/>
<rect x="438" y="314" width="1" height="41" fill="#000"/>
<rect x="387" y="312" width="51" height="41" fill="#000"/>
<path fill="#fff" d="M387 313h38v1h-38zM387 315h38v1h-38zM387 317h38v1h-38zM399 318h7v1h-7zM430 318h4v1h-4zM387 319h13v1h-13zM405 319h20v1h-20zM428 319h3v1h-3zM433 319h1v1h-1zM396 320h2v1h-2zM407 320h2v1h-2zM427 320h3v1h-3zM432 320h2v1h-2zM387 321h10v1h-10zM408 321h17v1h-17zM426 321h2v1h-2zM431 321h2v1h-2zM392 322h4v1h-4zM400 322h1v1h-1zM410 322h3v1h-3zM424 322h3v1h-3zM431 322h1v1h-1zM387 323h6v1h-6zM412 323h13v1h-13zM430 323h2v1h-2zM391 324h1v1h-1zM416 324h7v1h-7zM429 324h2v1h-2zM387 325h9v1h-9zM428 325h2v1h-2zM395 326h2v1h-2zM427 326h2v1h-2zM387 327h10v1h-10zM427 327h1v1h-1zM396 328h2v1h-2zM426 328h4v1h-4zM387 329h12v1h-12zM429 329h2v1h-2zM398 330h1v1h-1zM430 330h2v1h-2zM387 331h13v1h-13zM428 331h3v1h-3zM398 332h2v1h-2zM426 332h3v1h-3zM387 333h14v1h-14zM424 333h3v1h-3zM400 334h2v1h-2zM423 334h2v1h-2zM387 335h16v1h-16zM422 335h3v1h-3zM402 336h3v1h-3zM421 336h2v1h-2zM387 337h20v1h-20zM420 337h5v1h-5zM406 338h2v1h-2zM419 338h2v1h-2zM387 339h20v1h-20zM409 339h4v1h-4zM418 339h6v1h-6zM404 340h2v1h-2zM408 340h4v1h-4zM415 340h4v1h-4zM387 341h18v1h-18zM408 341h3v1h-3zM413 341h9v1h-9zM404 342h1v1h-1zM406 342h2v1h-2zM409 342h1v1h-1zM412 342h2v1h-2zM387 343h18v1h-18zM406 343h3v1h-3zM411 343h9v1h-9zM404 344h2v1h-2zM412 344h2v1h-2zM387 345h20v1h-20zM408 345h4v1h-4zM413 345h5v1h-5zM405 346h2v1h-2zM408 346h4v1h-4zM413 346h1v1h-1zM387 347h21v1h-21zM410 347h6v1h-6zM387 349h27v1h-27zM387 351h25v1h-25z"/>
<path fill="url(#chk)" d="M464 316h1v1h-1zM463 317h2v1h-2zM462 318h3v1h-3zM461 319h4v1h-4zM460 320h5v1h-5zM459 321h6v1h-6zM458 322h7v1h-7zM457 323h8v1h-8zM456 324h9v1h-9zM455 325h10v1h-10zM454 326h11v1h-11zM453 327h12v1h-12zM452 328h13v1h-13zM451 329h14v1h-14zM450 330h15v1h-15zM449 331h16v1h-16zM448 332h17v1h-17zM447 333h18v1h-18zM448 334h17v1h-17zM449 335h16v1h-16zM450 336h15v1h-15zM451 337h14v1h-14zM452 338h13v1h-13zM453 339h12v1h-12zM454 340h11v1h-11zM455 341h10v1h-10zM456 342h9v1h-9zM457 343h8v1h-8zM458 344h7v1h-7zM459 345h6v1h-6zM460 346h5v1h-5zM461 347h4v1h-4zM462 348h3v1h-3zM463 349h2v1h-2zM464 350h1v1h-1z" />
<path fill="url(#chk2)" d="M483 316h1v1h-1zM483 317h2v1h-2zM483 318h3v1h-3zM483 319h4v1h-4zM483 320h5v1h-5zM483 321h6v1h-6zM483 322h7v1h-7zM483 323h8v1h-8zM483 324h9v1h-9zM483 325h10v1h-10zM483 326h11v1h-11zM483 327h12v1h-12zM483 328h13v1h-13zM483 329h14v1h-14zM483 330h15v1h-15zM483 331h16v1h-16zM483 332h17v1h-17zM483 333h18v1h-18zM483 334h17v1h-17zM483 335h16v1h-16zM483 336h15v1h-15zM483 337h14v1h-14zM483 338h13v1h-13zM483 339h12v1h-12zM483 340h11v1h-11zM483 341h10v1h-10zM483 342h9v1h-9zM483 343h8v1h-8zM483 344h7v1h-7zM483 345h6v1h-6zM483 346h5v1h-5zM483 347h4v1h-4zM483 348h3v1h-3zM483 349h2v1h-2zM483 350h1v1h-1z" />
<path fill="#fff" d="M69 172h5v1h-5zM64 173h10v1h-10zM61 174h13v1h-13zM58 175h16v1h-16zM55 176h19v1h-19zM50 177h24v1h-24zM46 178h28v1h-28zM43 179h31v1h-31zM43 180h31v1h-31zM44 181h30v1h-30zM45 182h29v1h-29zM46 183h28v1h-28zM47 184h27v1h-27zM46 185h28v1h-28zM46 186h28v1h-28zM46 187h28v1h-28zM46 188h28v1h-28zM48 189h26v1h-26zM52 190h22v1h-22zM57 191h17v1h-17zM67 192h7v1h-7z" />
<path fill="#000" d="M46 182h7v1h-7z"/>
<path fill="#000" d="M181 159h14v1h-14zM194 158h7v1h-7zM95 168h5v1h-5zM167 160h15v1h-15zM76 171h5v1h-5zM131 163h23v1h-23zM153 162h10v1h-10zM71 172h6v1h-6zM106 166h14v1h-14zM119 165h8v1h-8zM126 164h6v1h-6zM162 161h6v1h-6zM65 173h6v1h-6zM99 167h8v1h-8zM85 169h11v1h-11zM81 170h5v1h-5z"/>
<path fill="#000" d="M127 165h5v1h-5zM133 164h4v1h-4zM141 164h6v1h-6zM113 167h5v1h-5zM120 166h6v1h-6z"/>
<path fill="#000" d="M64 178h4v1h-4zM68 177h4v1h-4zM92 171h4v1h-4zM101 169h7v1h-7zM108 168h4v1h-4zM86 172h7v1h-7zM74 175h5v1h-5zM79 174h3v1h-3zM56 180h3v1h-3zM59 179h4v1h-4zM82 173h3v1h-3zM97 170h1v1h-1z"/>
<path fill="#000" d="M157 165h11v1h-11zM76 178h8v1h-8zM115 171h10v1h-10zM120 170h5v1h-5zM127 170h4v1h-4zM57 183h4v1h-4zM72 179h5v1h-5zM97 174h6v1h-6zM108 172h12v1h-12zM144 167h4v1h-4zM153 167h5v1h-5zM150 166h6v1h-6zM160 166h8v1h-8zM102 173h7v1h-7zM46 181h8v1h-8zM63 181h6v1h-6zM90 175h8v1h-8zM137 168h6v1h-6zM146 168h5v1h-5zM126 169h5v1h-5zM132 169h5v1h-5zM139 169h4v1h-4zM60 182h4v1h-4zM83 177h4v1h-4zM86 176h5v1h-5zM68 180h5v1h-5zM52 184h6v1h-6z"/>
<path fill="#000" d="M109 179h2v1h-2zM110 178h2v1h-2zM105 180h5v1h-5zM92 184h8v1h-8zM79 188h5v1h-5zM104 181h6v1h-6zM89 185h4v1h-4zM102 182h3v1h-3zM83 187h4v1h-4zM86 186h4v1h-4zM99 183h4v1h-4z"/>
<path fill="#000" d="M55 191h23v1h-23zM83 191h6v1h-6zM100 191h20v1h-20zM126 191h24v1h-24zM50 190h6v1h-6zM73 190h5v1h-5zM83 190h9v1h-9zM99 190h17v1h-17zM140 190h13v1h-13zM46 189h5v1h-5zM77 189h1v1h-1zM88 189h6v1h-6zM99 189h2v1h-2zM144 189h21v1h-21zM77 192h2v1h-2zM119 192h18v1h-18zM96 186h1v1h-1zM91 188h9v1h-9zM148 188h1v1h-1zM155 188h7v1h-7zM164 188h9v1h-9zM94 187h3v1h-3z"/>
<path fill="#000" d="M128 178h15v1h-15zM158 178h6v1h-6zM101 187h5v1h-5zM115 187h4v1h-4zM142 187h6v1h-6zM115 184h8v1h-8zM134 184h7v1h-7zM143 184h6v1h-6zM164 184h7v1h-7zM112 181h6v1h-6zM126 181h1v1h-1zM133 181h4v1h-4zM138 181h4v1h-4zM168 181h3v1h-3zM123 183h4v1h-4zM151 183h6v1h-6zM106 186h4v1h-4zM118 186h3v1h-3zM122 186h6v1h-6zM149 186h6v1h-6zM106 188h4v1h-4zM112 188h3v1h-3zM128 188h13v1h-13zM124 182h1v1h-1zM128 182h4v1h-4zM159 182h7v1h-7zM137 175h6v1h-6zM110 185h5v1h-5zM120 185h2v1h-2zM128 185h7v1h-7zM155 185h7v1h-7zM118 180h6v1h-6zM143 180h5v1h-5zM134 177h6v1h-6zM146 177h9v1h-9zM160 176h8v1h-8zM139 174h5v1h-5zM123 179h4v1h-4zM151 179h4v1h-4zM118 189h9v1h-9z"/>
<path fill="#000" d="M221 149h2v1h-2zM235 143h3v1h-3zM238 142h3v1h-3zM355 96h1v1h-1zM232 144h3v1h-3zM269 128h4v1h-4zM244 138h2v1h-2zM246 137h2v1h-2zM348 102h2v1h-2zM353 98h1v1h-1zM273 127h5v1h-5zM336 111h2v1h-2zM290 123h10v1h-10zM338 110h2v1h-2zM330 113h3v1h-3zM300 122h9v1h-9zM352 99h1v1h-1zM241 140h1v1h-1zM254 134h3v1h-3zM210 152h3v1h-3zM248 136h2v1h-2zM250 135h4v1h-4zM310 120h4v1h-4zM320 117h3v1h-3zM340 109h2v1h-2zM213 151h5v1h-5zM314 119h4v1h-4zM318 118h2v1h-2zM278 126h3v1h-3zM258 132h3v1h-3zM223 148h2v1h-2zM225 147h2v1h-2zM323 116h2v1h-2zM263 130h2v1h-2zM265 129h4v1h-4zM325 115h3v1h-3zM200 158h2v1h-2zM281 125h4v1h-4zM354 97h1v1h-1zM229 145h3v1h-3zM285 124h5v1h-5zM242 139h2v1h-2zM347 103h1v1h-1zM333 112h3v1h-3zM202 157h2v1h-2zM346 104h1v1h-1zM204 156h3v1h-3zM344 106h1v1h-1zM345 105h1v1h-1zM350 101h1v1h-1zM208 154h1v1h-1zM218 150h3v1h-3zM261 131h2v1h-2zM227 146h2v1h-2zM328 114h2v1h-2zM351 100h1v1h-1zM209 153h1v1h-1zM309 121h1v1h-1zM357 94h1v1h-1zM207 155h1v1h-1zM342 108h1v1h-1zM343 107h1v1h-1zM241 141h1v1h-1zM257 133h1v1h-1zM356 95h1v1h-1z"/>
<path fill="#000" d="M200 157h7v1h-7zM222 148h7v1h-7zM284 125h4v1h-4zM226 146h4v1h-4z"/>
<path fill="#000" d="M290 200h11v1h-11zM306 200h8v1h-8zM266 197h16v1h-16zM317 197h10v1h-10zM232 190h18v1h-18zM175 180h21v1h-21zM262 196h10v1h-10zM322 196h8v1h-8zM272 198h18v1h-18zM314 198h8v1h-8zM208 185h16v1h-16zM173 179h13v1h-13zM295 201h15v1h-15zM179 181h25v1h-25zM238 191h17v1h-17zM244 192h14v1h-14zM224 188h14v1h-14zM214 186h13v1h-13zM186 182h22v1h-22zM196 183h18v1h-18zM282 199h13v1h-13zM310 199h7v1h-7zM250 193h12v1h-12zM332 193h2v1h-2zM255 194h7v1h-7zM330 194h4v1h-4zM220 187h12v1h-12zM172 177h1v1h-1zM227 189h17v1h-17zM172 178h3v1h-3zM204 184h16v1h-16zM301 202h5v1h-5zM258 195h8v1h-8zM327 195h5v1h-5z"/>
<path fill="#000" d="M184 172h4v1h-4zM189 172h3v1h-3zM184 168h2v1h-2zM194 168h4v1h-4zM201 160h4v1h-4zM187 170h4v1h-4zM192 170h4v1h-4zM177 176h4v1h-4zM184 176h1v1h-1zM177 174h2v1h-2zM206 164h1v1h-1zM186 166h4v1h-4z"/>
<path fill="#000" d="M193 164h1v1h-1zM196 164h1v1h-1zM204 165h1v1h-1zM181 169h1v1h-1zM184 169h1v1h-1zM182 168h1v1h-1zM189 168h1v1h-1zM177 172h1v1h-1zM181 172h1v1h-1zM190 172h1v1h-1zM197 162h1v1h-1zM179 174h1v1h-1zM182 174h1v1h-1zM178 176h1v1h-1zM183 175h1v1h-1zM185 175h1v1h-1zM180 171h1v1h-1zM185 171h1v1h-1zM181 170h1v1h-1zM188 170h1v1h-1zM192 167h1v1h-1zM183 173h1v1h-1z"/>
<path fill="#000" d="M185 163h4v1h-4zM185 164h4v1h-4zM186 165h3v1h-3zM186 166h3v1h-3z" />
<path fill="#000" d="M160 183h7v1h-7zM183 184h9v1h-9zM170 164h12v1h-12zM177 163h4v1h-4zM163 166h11v1h-11zM160 176h7v1h-7zM160 178h4v1h-4zM160 188h11v1h-11zM164 185h8v1h-8zM168 181h8v1h-8zM176 186h4v1h-4z"/>
<path fill="#000" d="M186 169h1v1h-1zM186 172h2v1h-2zM186 168h1v1h-1zM186 171h1v1h-1zM188 173h1v1h-1zM186 170h1v1h-1z"/>
<path fill="#000" d="M190 168h1v1h-1zM190 171h1v1h-1zM190 167h1v1h-1zM190 170h1v1h-1zM190 166h1v1h-1zM190 169h1v1h-1z"/>
<path fill="#000" d="M185 168h1v1h-1zM177 174h1v1h-1zM187 167h1v1h-1zM179 173h1v1h-1zM181 171h1v1h-1zM193 164h1v1h-1zM189 166h1v1h-1zM183 169h1v1h-1zM191 165h1v1h-1z"/>
<path fill="#000" d="M181 169h2v1h-2zM173 175h1v1h-1zM178 171h1v1h-1zM179 170h2v1h-2zM183 168h2v1h-2zM172 177h1v1h-1zM185 167h2v1h-2zM174 174h1v1h-1zM175 173h2v1h-2zM187 166h2v1h-2zM173 176h1v1h-1zM177 172h1v1h-1z"/>
<path fill="#000" d="M199 161h1v1h-1zM197 162h1v1h-1zM195 163h1v1h-1zM187 167h1v1h-1zM181 171h1v1h-1zM177 173h1v1h-1zM179 172h1v1h-1zM183 170h1v1h-1zM193 164h1v1h-1zM173 176h1v1h-1zM189 166h1v1h-1zM175 175h1v1h-1zM191 165h1v1h-1zM185 169h1v1h-1z"/>
<path fill="#000" d="M338 188h2v1h-2zM363 155h3v1h-3zM339 187h3v1h-3zM351 170h3v1h-3zM334 193h2v1h-2zM335 192h2v1h-2zM362 156h3v1h-3zM345 178h2v1h-2zM341 183h3v1h-3zM344 180h2v1h-2zM362 158h2v1h-2zM358 163h2v1h-2zM360 160h3v1h-3zM359 162h3v1h-3zM341 185h2v1h-2zM353 168h3v1h-3zM356 165h2v1h-2zM357 164h2v1h-2zM373 145h3v1h-3zM372 146h3v1h-3zM340 184h3v1h-3zM371 147h3v1h-3zM347 174h2v1h-2zM367 151h3v1h-3zM370 148h4v1h-4zM354 167h3v1h-3zM352 169h4v1h-4zM355 166h3v1h-3zM346 175h2v1h-2zM348 172h3v1h-3zM365 153h2v1h-2zM366 152h2v1h-2zM369 149h3v1h-3zM337 189h2v1h-2zM340 186h2v1h-2zM344 177h3v1h-3zM345 176h3v1h-3zM363 157h2v1h-2zM364 154h2v1h-2zM368 150h3v1h-3zM333 194h3v1h-3zM335 191h2v1h-2zM361 159h2v1h-2zM333 195h1v1h-1zM342 182h2v1h-2zM344 179h2v1h-2zM343 181h2v1h-2zM360 161h2v1h-2zM349 171h3v1h-3zM374 144h3v1h-3zM336 190h2v1h-2zM347 173h2v1h-2z"/>
<path fill="#000" d="M190 168h8v1h-8zM199 168h3v1h-3zM204 168h8v1h-8zM223 168h4v1h-4zM228 168h3v1h-3zM234 168h8v1h-8zM245 168h4v1h-4zM250 168h4v1h-4zM255 168h5v1h-5zM263 168h5v1h-5zM270 168h4v1h-4zM304 168h4v1h-4zM311 168h7v1h-7zM237 184h7v1h-7zM250 184h6v1h-6zM273 184h4v1h-4zM279 184h5v1h-5zM297 184h5v1h-5zM303 184h5v1h-5zM311 184h6v1h-6zM320 184h4v1h-4zM233 158h5v1h-5zM248 158h7v1h-7zM272 158h7v1h-7zM224 186h6v1h-6zM233 186h4v1h-4zM238 186h5v1h-5zM245 186h4v1h-4zM259 186h6v1h-6zM268 186h7v1h-7zM284 186h5v1h-5zM307 186h3v1h-3zM311 186h6v1h-6zM326 186h4v1h-4zM222 180h3v1h-3zM228 180h4v1h-4zM233 180h5v1h-5zM241 180h8v1h-8zM252 180h4v1h-4zM257 180h6v1h-6zM272 180h6v1h-6zM281 180h5v1h-5zM294 180h4v1h-4zM299 180h6v1h-6zM312 180h5v1h-5zM225 182h5v1h-5zM232 182h6v1h-6zM254 182h5v1h-5zM260 182h5v1h-5zM267 182h6v1h-6zM274 182h8v1h-8zM285 182h5v1h-5zM291 182h6v1h-6zM300 182h3v1h-3zM312 182h3v1h-3zM258 160h5v1h-5zM265 160h5v1h-5zM271 160h6v1h-6zM293 160h3v1h-3zM298 160h7v1h-7zM197 174h3v1h-3zM201 174h6v1h-6zM218 174h7v1h-7zM228 174h8v1h-8zM237 174h4v1h-4zM249 174h5v1h-5zM255 174h5v1h-5zM263 174h4v1h-4zM268 174h5v1h-5zM274 174h8v1h-8zM283 174h7v1h-7zM315 174h8v1h-8zM201 176h3v1h-3zM207 176h5v1h-5zM227 176h7v1h-7zM236 176h3v1h-3zM240 176h5v1h-5zM255 176h5v1h-5zM262 176h4v1h-4zM267 176h5v1h-5zM274 176h5v1h-5zM280 176h4v1h-4zM285 176h3v1h-3zM289 176h4v1h-4zM294 176h6v1h-6zM302 176h8v1h-8zM278 156h3v1h-3zM284 156h4v1h-4zM291 156h8v1h-8zM300 156h4v1h-4zM217 170h7v1h-7zM225 170h5v1h-5zM231 170h7v1h-7zM239 170h3v1h-3zM245 170h7v1h-7zM253 170h8v1h-8zM288 170h6v1h-6zM295 170h6v1h-6zM302 170h8v1h-8zM185 172h4v1h-4zM190 172h6v1h-6zM213 172h8v1h-8zM224 172h6v1h-6zM231 172h5v1h-5zM239 172h5v1h-5zM247 172h6v1h-6zM254 172h6v1h-6zM263 172h5v1h-5zM273 172h3v1h-3zM299 172h6v1h-6zM308 172h7v1h-7zM317 172h3v1h-3zM243 190h7v1h-7zM266 190h6v1h-6zM275 190h4v1h-4zM290 190h3v1h-3zM296 190h8v1h-8zM312 190h4v1h-4zM326 190h8v1h-8zM261 192h4v1h-4zM272 192h4v1h-4zM278 192h5v1h-5zM293 192h6v1h-6zM306 192h6v1h-6zM313 192h7v1h-7zM321 192h8v1h-8zM217 162h4v1h-4zM222 162h4v1h-4zM233 162h4v1h-4zM238 162h4v1h-4zM244 162h7v1h-7zM281 162h7v1h-7zM290 162h6v1h-6zM299 162h6v1h-6zM210 164h8v1h-8zM220 164h7v1h-7zM233 164h6v1h-6zM240 164h4v1h-4zM246 164h8v1h-8zM257 164h4v1h-4zM262 164h7v1h-7zM188 178h4v1h-4zM195 178h8v1h-8zM252 178h8v1h-8zM261 178h3v1h-3zM266 178h3v1h-3zM271 178h7v1h-7zM279 178h8v1h-8zM288 178h6v1h-6zM302 178h7v1h-7zM203 166h4v1h-4zM221 166h8v1h-8zM247 166h3v1h-3zM251 166h6v1h-6zM267 166h3v1h-3zM279 166h8v1h-8zM299 166h4v1h-4zM306 166h5v1h-5zM279 150h7v1h-7zM263 194h4v1h-4zM270 194h8v1h-8zM290 194h5v1h-5zM296 194h3v1h-3zM300 194h5v1h-5zM314 194h6v1h-6zM322 194h6v1h-6zM235 188h7v1h-7zM259 188h3v1h-3zM281 188h3v1h-3zM299 188h8v1h-8zM308 188h8v1h-8zM326 188h3v1h-3zM332 188h2v1h-2zM273 196h4v1h-4zM279 196h4v1h-4zM286 196h6v1h-6zM300 196h3v1h-3zM309 196h5v1h-5zM315 196h7v1h-7zM278 154h7v1h-7zM286 154h4v1h-4zM278 152h3v1h-3zM282 152h4v1h-4zM286 198h7v1h-7zM306 198h5v1h-5z"/>
<path fill="#000" d="M213 168h2v1h-2zM261 168h1v1h-1zM268 168h2v1h-2zM214 184h2v1h-2zM278 184h1v1h-1zM198 167h2v1h-2zM213 167h1v1h-1zM217 167h1v1h-1zM221 167h2v1h-2zM273 167h2v1h-2zM316 167h2v1h-2zM197 165h2v1h-2zM219 165h2v1h-2zM284 165h2v1h-2zM297 165h1v1h-1zM238 160h1v1h-1zM279 160h2v1h-2zM221 179h1v1h-1zM289 179h1v1h-1zM317 179h2v1h-2zM276 187h2v1h-2zM291 187h1v1h-1zM332 187h1v1h-1zM220 183h2v1h-2zM260 183h2v1h-2zM264 183h1v1h-1zM269 183h1v1h-1zM200 177h2v1h-2zM211 177h1v1h-1zM214 177h1v1h-1zM248 177h2v1h-2zM282 177h2v1h-2zM206 181h1v1h-1zM219 181h2v1h-2zM245 181h2v1h-2zM253 181h2v1h-2zM261 181h2v1h-2zM264 181h1v1h-1zM287 195h1v1h-1zM289 195h2v1h-2zM306 195h2v1h-2zM261 158h1v1h-1zM268 158h2v1h-2zM271 158h2v1h-2zM288 158h1v1h-1zM305 158h1v1h-1zM251 190h1v1h-1zM270 190h2v1h-2zM281 190h1v1h-1zM254 188h2v1h-2zM280 188h2v1h-2zM290 188h1v1h-1zM293 188h2v1h-2zM230 159h2v1h-2zM240 159h1v1h-1zM278 193h1v1h-1zM285 193h2v1h-2zM308 193h1v1h-1zM230 170h2v1h-2zM256 170h2v1h-2zM191 169h2v1h-2zM254 169h2v1h-2zM313 169h1v1h-1zM223 163h2v1h-2zM179 176h1v1h-1zM225 176h1v1h-1zM287 176h1v1h-1zM293 176h1v1h-1zM320 176h2v1h-2zM265 194h2v1h-2zM276 194h2v1h-2zM190 172h1v1h-1zM239 172h1v1h-1zM270 196h1v1h-1zM272 196h2v1h-2zM311 196h2v1h-2zM211 174h1v1h-1zM236 174h1v1h-1zM247 174h2v1h-2zM267 174h2v1h-2zM305 174h1v1h-1zM320 174h1v1h-1zM234 185h1v1h-1zM303 185h1v1h-1zM308 198h1v1h-1zM266 191h2v1h-2zM269 191h2v1h-2zM272 191h1v1h-1zM295 191h1v1h-1zM308 191h1v1h-1zM255 180h2v1h-2zM272 180h1v1h-1zM276 180h1v1h-1zM295 161h1v1h-1zM218 162h2v1h-2zM246 162h1v1h-1zM299 162h2v1h-2zM248 189h2v1h-2zM270 189h2v1h-2zM251 186h2v1h-2zM262 186h1v1h-1zM190 178h2v1h-2zM241 178h1v1h-1zM312 178h1v1h-1zM314 178h2v1h-2zM324 178h1v1h-1zM202 166h2v1h-2zM242 166h1v1h-1zM298 166h1v1h-1zM281 156h2v1h-2zM287 156h1v1h-1zM217 173h2v1h-2zM291 151h2v1h-2zM184 171h1v1h-1zM251 171h1v1h-1zM265 171h1v1h-1zM228 157h1v1h-1zM272 157h2v1h-2zM197 175h2v1h-2zM204 175h1v1h-1zM220 175h2v1h-2zM241 175h1v1h-1zM272 175h2v1h-2zM281 152h1v1h-1zM297 154h2v1h-2zM199 164h1v1h-1zM307 164h1v1h-1zM216 182h1v1h-1zM241 182h1v1h-1zM285 153h1v1h-1z"/>
<path fill="#000" d="M214 165h5v1h-5zM293 190h8v1h-8zM277 186h9v1h-9zM267 183h6v1h-6zM261 180h4v1h-4zM252 177h6v1h-6zM258 179h5v1h-5zM249 176h6v1h-6zM238 173h8v1h-8zM232 172h10v1h-10zM224 169h4v1h-4zM297 191h8v1h-8zM270 184h7v1h-7zM242 174h7v1h-7zM263 181h4v1h-4zM289 189h8v1h-8zM219 167h5v1h-5zM273 185h9v1h-9zM210 163h4v1h-4zM301 192h6v1h-6zM228 171h10v1h-10zM255 178h6v1h-6zM226 170h6v1h-6zM212 164h5v1h-5zM246 175h6v1h-6zM282 187h7v1h-7zM305 193h2v1h-2zM286 188h7v1h-7zM265 182h5v1h-5zM221 168h5v1h-5zM217 166h4v1h-4zM210 162h2v1h-2z"/>
<path fill="#000" d="M232 171h13v1h-13zM239 173h6v1h-6zM232 170h7v1h-7zM232 172h13v1h-13z"/>
<path fill="#000" d="M238 190h12v1h-12zM208 184h12v1h-12zM220 186h7v1h-7zM204 183h10v1h-10zM181 180h16v1h-16zM197 182h11v1h-11zM224 187h8v1h-8zM187 181h17v1h-17zM214 185h10v1h-10zM244 191h10v1h-10zM227 188h11v1h-11zM232 189h12v1h-12zM250 192h4v1h-4zM181 179h6v1h-6z"/>
<path fill="#000" d="M261 158h3v1h-3zM252 155h3v1h-3zM258 157h3v1h-3zM249 154h3v1h-3zM243 150h1v1h-1zM246 152h1v1h-1zM264 159h2v1h-2zM255 156h3v1h-3zM244 151h2v1h-2zM247 153h2v1h-2zM242 149h1v1h-1z"/>
<path fill="#000" d="M254 155h11v1h-11zM265 156h10v1h-10z"/>
<path fill="#000" d="M258 159h17v1h-17zM258 158h17v1h-17z"/>
<path fill="#000" d="M288 169h2v1h-2zM309 178h2v1h-2zM328 187h2v1h-2zM300 174h2v1h-2zM302 175h2v1h-2zM281 167h4v1h-4zM293 171h2v1h-2zM285 168h3v1h-3zM313 180h3v1h-3zM266 164h6v1h-6zM326 186h2v1h-2zM277 166h4v1h-4zM290 170h3v1h-3zM298 173h2v1h-2zM318 182h2v1h-2zM322 184h2v1h-2zM272 165h5v1h-5zM330 188h1v1h-1zM262 163h4v1h-4zM324 185h2v1h-2zM307 177h2v1h-2zM320 183h2v1h-2zM311 179h2v1h-2zM295 172h3v1h-3zM316 181h2v1h-2zM304 176h3v1h-3z"/>
<path fill="#000" d="M307 187h2v1h-2zM277 175h2v1h-2zM311 189h3v1h-3zM261 170h3v1h-3zM252 167h3v1h-3zM282 177h3v1h-3zM295 182h2v1h-2zM316 191h3v1h-3zM267 172h4v1h-4zM258 169h3v1h-3zM299 184h3v1h-3zM309 188h2v1h-2zM274 174h3v1h-3zM264 171h3v1h-3zM255 168h3v1h-3zM292 181h3v1h-3zM321 193h2v1h-2zM304 186h3v1h-3zM314 190h2v1h-2zM287 179h3v1h-3zM250 166h2v1h-2zM279 176h3v1h-3zM297 183h2v1h-2zM319 192h2v1h-2zM302 185h2v1h-2zM285 178h2v1h-2zM271 173h3v1h-3zM290 180h2v1h-2z"/>
<path fill="#000" d="M272 187h3v1h-3zM264 184h2v1h-2zM304 197h2v1h-2zM205 171h9v1h-9zM249 179h3v1h-3zM295 194h3v1h-3zM275 188h4v1h-4zM266 185h3v1h-3zM229 174h5v1h-5zM214 172h11v1h-11zM279 189h3v1h-3zM269 186h3v1h-3zM261 183h3v1h-3zM252 180h3v1h-3zM242 177h3v1h-3zM225 173h4v1h-4zM292 193h3v1h-3zM282 190h3v1h-3zM238 176h4v1h-4zM255 181h3v1h-3zM301 196h3v1h-3zM234 175h4v1h-4zM258 182h3v1h-3zM285 191h3v1h-3zM298 195h3v1h-3zM288 192h4v1h-4zM245 178h4v1h-4z"/>
<path fill="#000" d="M195 170h24v1h-24zM219 171h6v1h-6zM225 172h4v1h-4z"/>
<path fill="#000" d="M185 175h19v1h-19zM240 184h4v1h-4zM204 176h8v1h-8zM212 177h5v1h-5zM225 180h4v1h-4zM236 183h4v1h-4zM247 186h3v1h-3zM232 182h4v1h-4zM221 179h4v1h-4zM244 185h3v1h-3zM217 178h4v1h-4zM229 181h3v1h-3zM254 188h3v1h-3zM250 187h4v1h-4zM257 189h2v1h-2z"/>
<path fill="#000" d="M275 146h5v1h-5zM307 158h2v1h-2zM298 152h2v1h-2zM289 149h4v1h-4zM312 160h2v1h-2zM305 157h2v1h-2zM317 162h3v1h-3zM309 159h3v1h-3zM302 155h2v1h-2zM314 161h3v1h-3zM296 151h2v1h-2zM286 148h3v1h-3zM280 147h6v1h-6zM300 153h1v1h-1zM320 163h2v1h-2zM293 150h3v1h-3zM304 156h1v1h-1zM301 154h1v1h-1z"/>
<path fill="#000" d="M329 181h2v1h-2zM331 184h1v1h-1zM334 186h1v1h-1zM334 189h1v1h-1zM322 166h1v1h-1zM322 172h1v1h-1zM326 180h3v1h-3zM322 169h1v1h-1zM330 182h1v1h-1zM323 176h1v1h-1zM332 185h2v1h-2zM331 183h1v1h-1zM325 179h1v1h-1zM334 188h1v1h-1zM322 168h1v1h-1zM322 171h1v1h-1zM322 174h1v1h-1zM324 177h1v1h-1zM323 175h1v1h-1zM325 178h1v1h-1zM334 187h1v1h-1zM322 170h1v1h-1zM322 167h1v1h-1zM322 173h1v1h-1z"/>
<path fill="#000" d="M252 136h7v1h-7zM260 133h4v1h-4zM246 146h2v1h-2zM267 146h17v1h-17zM246 145h3v1h-3zM275 145h5v1h-5zM244 148h10v1h-10zM279 148h9v1h-9zM278 128h4v1h-4zM244 141h3v1h-3zM254 141h5v1h-5zM243 147h26v1h-26zM279 147h9v1h-9zM292 152h3v1h-3zM250 143h4v1h-4zM247 139h2v1h-2zM251 139h2v1h-2zM254 139h7v1h-7zM248 144h4v1h-4zM288 150h6v1h-6zM244 140h8v1h-8zM257 140h3v1h-3zM274 129h4v1h-4zM294 151h4v1h-4zM267 131h4v1h-4zM271 130h3v1h-3zM244 142h2v1h-2zM252 142h4v1h-4zM249 138h5v1h-5zM257 134h6v1h-6zM285 149h4v1h-4zM297 155h2v1h-2zM250 137h6v1h-6zM295 154h2v1h-2zM264 132h3v1h-3zM292 153h2v1h-2zM296 153h2v1h-2z"/>
<path fill="#fff" d="M281 147h2v1h-2z"/>
<path fill="#000" d="M252 159h7v1h-7zM250 158h5v1h-5zM243 155h2v1h-2zM252 155h7v1h-7zM274 155h4v1h-4zM237 151h2v1h-2zM244 151h3v1h-3zM238 144h6v1h-6zM243 156h7v1h-7zM254 156h22v1h-22zM237 152h2v1h-2zM246 152h3v1h-3zM244 157h11v1h-11zM274 157h4v1h-4zM238 153h6v1h-6zM247 153h7v1h-7zM237 145h3v1h-3zM242 154h3v1h-3zM251 154h4v1h-4zM236 150h2v1h-2zM243 150h2v1h-2zM237 147h2v1h-2zM236 148h3v1h-3zM236 149h2v1h-2zM242 149h3v1h-3zM237 146h2v1h-2z"/>
<path fill="#000" d="M232 146h2v1h-2zM211 152h1v1h-1zM216 152h1v1h-1zM220 152h1v1h-1zM223 152h1v1h-1zM226 152h1v1h-1zM234 152h1v1h-1zM211 154h1v1h-1zM216 154h1v1h-1zM221 154h1v1h-1zM224 154h1v1h-1zM227 154h1v1h-1zM234 154h1v1h-1zM236 154h1v1h-1zM211 155h1v1h-1zM216 155h1v1h-1zM225 155h1v1h-1zM228 155h1v1h-1zM236 155h1v1h-1zM231 147h1v1h-1zM234 147h1v1h-1zM241 147h1v1h-1zM216 151h1v1h-1zM223 151h1v1h-1zM232 151h1v1h-1zM231 148h1v1h-1zM211 156h1v1h-1zM216 156h1v1h-1zM222 156h1v1h-1zM226 156h2v1h-2zM230 156h1v1h-1zM237 156h1v1h-1zM239 156h2v1h-2zM211 153h1v1h-1zM216 153h1v1h-1zM221 153h1v1h-1zM223 153h1v1h-1zM226 153h1v1h-1zM211 157h1v1h-1zM217 157h1v1h-1zM223 157h1v1h-1zM229 157h1v1h-1zM231 157h1v1h-1zM218 158h1v1h-1zM224 158h1v1h-1zM232 158h1v1h-1zM225 159h1v1h-1zM224 150h1v1h-1zM231 150h1v1h-1zM231 149h1v1h-1zM234 145h1v1h-1z"/>
<path fill="#000" d="M207 162h1v1h-1zM207 163h1v1h-1zM207 161h1v1h-1zM206 158h1v1h-1zM206 157h1v1h-1zM206 160h2v1h-2zM206 159h1v1h-1z"/>
<path fill="#000" d="M225 198h11v1h-11zM207 191h4v1h-4zM258 209h2v1h-2zM229 199h13v1h-13zM219 196h6v1h-6zM253 205h3v1h-3zM245 202h6v1h-6zM265 214h1v1h-1zM221 197h8v1h-8zM242 201h7v1h-7zM213 194h6v1h-6zM236 200h9v1h-9zM216 195h5v1h-5zM259 210h3v1h-3zM262 212h3v1h-3zM254 206h3v1h-3zM209 192h4v1h-4zM249 203h4v1h-4zM211 193h5v1h-5zM251 204h3v1h-3zM207 190h2v1h-2zM257 208h2v1h-2zM263 213h3v1h-3zM260 211h3v1h-3zM256 207h2v1h-2z"/>
<path fill="#000" d="M280 229h3v1h-3zM286 239h3v1h-3zM278 226h4v1h-4zM275 222h3v1h-3zM284 234h2v1h-2zM282 232h3v1h-3zM268 218h4v1h-4zM277 225h4v1h-4zM285 237h3v1h-3zM280 227h2v1h-2zM284 235h3v1h-3zM271 220h5v1h-5zM281 230h2v1h-2zM273 221h4v1h-4zM276 223h2v1h-2zM269 219h5v1h-5zM287 241h1v1h-1zM287 240h2v1h-2zM280 228h2v1h-2zM286 238h2v1h-2zM281 231h3v1h-3zM276 224h3v1h-3zM283 233h3v1h-3zM285 236h2v1h-2zM268 217h2v1h-2z"/>
<path fill="#000" d="M268 216h5v1h-5zM276 221h7v1h-7z"/>
<path fill="#000" d="M408 177h2v1h-2zM387 200h3v1h-3zM413 168h1v1h-1zM414 165h2v1h-2zM292 241h2v1h-2zM328 221h9v1h-9zM384 202h3v1h-3zM406 180h2v1h-2zM405 182h1v1h-1zM407 179h1v1h-1zM305 228h6v1h-6zM307 227h7v1h-7zM377 207h3v1h-3zM380 205h3v1h-3zM417 156h1v1h-1zM350 217h8v1h-8zM320 223h8v1h-8zM383 203h3v1h-3zM354 216h7v1h-7zM404 183h2v1h-2zM314 225h6v1h-6zM343 218h11v1h-11zM412 170h2v1h-2zM317 224h7v1h-7zM294 239h2v1h-2zM361 214h7v1h-7zM416 149h2v1h-2zM411 172h2v1h-2zM337 219h13v1h-13zM332 220h11v1h-11zM364 213h6v1h-6zM400 189h2v1h-2zM403 186h1v1h-1zM358 215h6v1h-6zM403 185h2v1h-2zM416 159h1v1h-1zM324 222h8v1h-8zM398 191h2v1h-2zM399 190h2v1h-2zM402 187h2v1h-2zM297 235h2v1h-2zM417 151h1v1h-1zM388 199h3v1h-3zM374 209h3v1h-3zM410 174h2v1h-2zM372 210h3v1h-3zM397 192h2v1h-2zM300 232h2v1h-2zM386 201h2v1h-2zM391 197h3v1h-3zM415 162h2v1h-2zM392 196h3v1h-3zM416 161h1v1h-1zM410 175h1v1h-1zM378 206h3v1h-3zM370 211h4v1h-4zM368 212h4v1h-4zM296 237h2v1h-2zM298 234h2v1h-2zM417 153h1v1h-1zM299 233h2v1h-2zM390 198h2v1h-2zM375 208h3v1h-3zM396 193h2v1h-2zM311 226h6v1h-6zM295 238h2v1h-2zM413 167h2v1h-2zM415 164h1v1h-1zM414 166h1v1h-1zM394 195h2v1h-2zM405 181h2v1h-2zM293 240h2v1h-2zM417 155h1v1h-1zM416 147h1v1h-1zM413 169h1v1h-1zM416 157h2v1h-2zM401 188h2v1h-2zM404 184h1v1h-1zM416 158h1v1h-1zM302 230h3v1h-3zM417 150h1v1h-1zM411 173h1v1h-1zM304 229h3v1h-3zM395 194h2v1h-2zM381 204h3v1h-3zM409 176h2v1h-2zM416 160h1v1h-1zM301 231h3v1h-3zM297 236h2v1h-2zM407 178h2v1h-2zM416 148h1v1h-1zM412 171h1v1h-1zM417 152h1v1h-1zM415 163h1v1h-1zM417 154h1v1h-1z"/>
<path fill="#000" d="M326 220h1v1h-1zM326 219h2v1h-2z"/>
<path fill="#000" d="M255 204h2v1h-2zM259 204h1v1h-1zM263 204h1v1h-1zM274 204h2v1h-2zM277 204h2v1h-2zM280 204h1v1h-1zM282 204h1v1h-1zM293 204h1v1h-1zM297 204h1v1h-1zM251 201h1v1h-1zM262 201h1v1h-1zM264 201h2v1h-2zM268 201h2v1h-2zM275 201h1v1h-1zM277 201h1v1h-1zM280 201h1v1h-1zM283 201h1v1h-1zM298 201h1v1h-1zM312 201h1v1h-1zM322 201h1v1h-1zM260 203h1v1h-1zM264 203h6v1h-6zM278 203h1v1h-1zM282 203h1v1h-1zM285 203h1v1h-1zM290 203h1v1h-1zM298 203h1v1h-1zM310 203h1v1h-1zM247 200h1v1h-1zM256 200h1v1h-1zM259 200h1v1h-1zM262 200h1v1h-1zM276 200h1v1h-1zM282 200h1v1h-1zM285 200h1v1h-1zM288 200h1v1h-1zM290 200h1v1h-1zM236 197h1v1h-1zM246 197h1v1h-1zM254 197h1v1h-1zM256 197h2v1h-2zM259 197h3v1h-3zM263 197h2v1h-2zM266 197h1v1h-1zM250 199h1v1h-1zM253 199h1v1h-1zM257 199h1v1h-1zM272 199h2v1h-2zM278 199h4v1h-4zM211 191h1v1h-1zM214 191h1v1h-1zM218 191h1v1h-1zM220 191h1v1h-1zM228 191h1v1h-1zM230 191h2v1h-2zM234 191h2v1h-2zM266 212h2v1h-2zM279 212h1v1h-1zM282 212h1v1h-1zM292 212h1v1h-1zM298 212h1v1h-1zM300 212h1v1h-1zM327 212h1v1h-1zM337 212h1v1h-1zM272 213h1v1h-1zM286 213h1v1h-1zM298 213h1v1h-1zM332 213h1v1h-1zM251 202h1v1h-1zM257 202h1v1h-1zM270 202h5v1h-5zM284 202h1v1h-1zM291 202h3v1h-3zM295 202h1v1h-1zM297 202h3v1h-3zM302 202h1v1h-1zM307 202h1v1h-1zM314 202h1v1h-1zM323 202h1v1h-1zM224 193h1v1h-1zM231 193h1v1h-1zM234 193h1v1h-1zM240 193h1v1h-1zM245 193h2v1h-2zM248 193h1v1h-1zM236 198h1v1h-1zM240 198h1v1h-1zM243 198h1v1h-1zM248 198h1v1h-1zM257 198h1v1h-1zM262 198h1v1h-1zM270 198h2v1h-2zM275 206h1v1h-1zM283 206h1v1h-1zM290 206h1v1h-1zM297 206h1v1h-1zM299 206h1v1h-1zM321 206h1v1h-1zM259 205h1v1h-1zM264 205h1v1h-1zM272 205h1v1h-1zM275 205h2v1h-2zM283 205h1v1h-1zM297 205h2v1h-2zM309 205h1v1h-1zM311 205h1v1h-1zM322 205h1v1h-1zM337 205h1v1h-1zM223 195h1v1h-1zM230 195h1v1h-1zM232 195h1v1h-1zM245 195h1v1h-1zM248 195h1v1h-1zM253 195h1v1h-1zM256 195h1v1h-1zM226 192h1v1h-1zM229 192h1v1h-1zM232 192h1v1h-1zM239 192h2v1h-2zM243 192h1v1h-1zM263 209h1v1h-1zM267 209h1v1h-1zM279 209h1v1h-1zM288 209h1v1h-1zM296 209h1v1h-1zM300 209h1v1h-1zM231 196h5v1h-5zM238 196h1v1h-1zM246 196h1v1h-1zM248 196h1v1h-1zM252 196h2v1h-2zM226 194h1v1h-1zM235 194h2v1h-2zM243 194h1v1h-1zM250 194h2v1h-2zM290 214h1v1h-1zM299 214h1v1h-1zM334 214h1v1h-1zM291 219h1v1h-1zM292 215h1v1h-1zM296 215h1v1h-1zM299 215h1v1h-1zM308 215h1v1h-1zM263 208h1v1h-1zM267 208h1v1h-1zM286 208h1v1h-1zM290 208h2v1h-2zM294 208h1v1h-1zM314 208h1v1h-1zM316 208h1v1h-1zM334 208h1v1h-1zM217 188h2v1h-2zM221 188h1v1h-1zM227 188h1v1h-1zM322 218h1v1h-1zM293 217h1v1h-1zM311 217h1v1h-1zM319 221h1v1h-1zM259 207h1v1h-1zM263 207h1v1h-1zM269 207h1v1h-1zM272 207h1v1h-1zM283 207h1v1h-1zM297 207h1v1h-1zM300 207h1v1h-1zM308 207h1v1h-1zM209 190h2v1h-2zM227 190h1v1h-1zM233 190h1v1h-1zM237 190h1v1h-1zM320 222h1v1h-1zM281 211h1v1h-1zM291 211h1v1h-1zM310 211h1v1h-1zM319 211h1v1h-1zM323 211h1v1h-1zM296 216h1v1h-1zM306 216h1v1h-1zM324 216h1v1h-1zM217 189h1v1h-1zM221 189h1v1h-1zM220 187h1v1h-1zM278 210h1v1h-1zM289 210h1v1h-1zM299 210h1v1h-1z"/>
<path fill="#000" d="M262 212h1v1h-1zM265 212h1v1h-1zM268 212h1v1h-1zM271 212h1v1h-1zM274 212h1v1h-1zM277 212h1v1h-1zM280 212h1v1h-1zM283 212h1v1h-1zM286 212h1v1h-1zM289 212h1v1h-1zM292 212h1v1h-1zM295 212h1v1h-1zM298 212h1v1h-1z"/>
<path fill="#000" d="M275 209h1v1h-1zM279 209h1v1h-1zM283 209h1v1h-1zM287 209h1v1h-1zM291 209h1v1h-1zM295 209h1v1h-1zM299 209h1v1h-1z"/>
<path fill="#000" d="M283 214h1v1h-1zM287 214h1v1h-1zM291 214h1v1h-1zM295 214h1v1h-1zM299 214h1v1h-1z"/>
<path fill="#000" d="M276 211h1v1h-1zM276 210h1v1h-1z"/>
<path fill="#000" d="M282 210h1v1h-1zM282 211h1v1h-1z"/>
<path fill="#000" d="M288 210h1v1h-1zM288 211h1v1h-1z"/>
<path fill="#000" d="M294 210h1v1h-1zM294 211h1v1h-1z"/>
<path fill="#000" d="M320 212h1v1h-1zM320 213h1v1h-1z"/>
<path fill="#000" d="M327 213h1v1h-1zM327 212h1v1h-1z"/>
<path fill="#000" d="M334 212h1v1h-1zM334 213h1v1h-1z"/>
<path fill="#000" d="M341 212h1v1h-1zM341 213h1v1h-1z"/>
<path fill="#000" d="M407 155h1v1h-1zM363 177h1v1h-1zM389 177h1v1h-1zM395 177h1v1h-1zM388 174h1v1h-1zM391 174h1v1h-1zM384 190h1v1h-1zM412 157h1v1h-1zM396 170h1v1h-1zM400 170h1v1h-1zM408 170h1v1h-1zM366 196h2v1h-2zM409 149h1v1h-1zM340 214h1v1h-1zM353 211h1v1h-1zM388 168h1v1h-1zM404 168h1v1h-1zM368 178h1v1h-1zM370 181h1v1h-1zM388 199h1v1h-1zM405 154h1v1h-1zM368 205h1v1h-1zM390 144h1v1h-1zM339 202h1v1h-1zM353 198h1v1h-1zM386 198h1v1h-1zM394 150h1v1h-1zM374 165h1v1h-1zM403 165h1v1h-1zM365 184h1v1h-1zM373 191h1v1h-1zM413 151h1v1h-1zM366 164h1v1h-1zM346 183h1v1h-1zM360 206h1v1h-1zM385 162h1v1h-1zM394 189h1v1h-1zM386 145h1v1h-1zM404 145h1v1h-1zM353 215h1v1h-1zM388 182h1v1h-1zM359 207h1v1h-1zM366 160h1v1h-1zM410 169h1v1h-1z"/>
<path fill="#000" d="M398 152h1v1h-1zM409 152h1v1h-1zM411 149h1v1h-1zM400 157h2v1h-2zM405 157h1v1h-1zM411 157h1v1h-1zM404 156h1v1h-1zM407 156h1v1h-1zM401 162h2v1h-2zM404 162h1v1h-1zM409 162h1v1h-1zM412 162h1v1h-1zM405 155h1v1h-1zM415 155h1v1h-1zM398 160h1v1h-1zM404 151h1v1h-1zM411 151h1v1h-1zM406 167h1v1h-1zM408 167h1v1h-1zM400 163h1v1h-1zM411 163h1v1h-1zM400 150h1v1h-1zM402 150h1v1h-1zM405 150h1v1h-1zM407 159h1v1h-1zM399 154h1v1h-1z"/>
<path fill="#000" d="M384 184h1v1h-1zM393 184h1v1h-1zM389 180h1v1h-1zM398 180h1v1h-1zM371 188h1v1h-1zM383 188h1v1h-1zM385 188h1v1h-1zM395 178h1v1h-1zM397 178h1v1h-1zM402 178h1v1h-1zM387 179h1v1h-1zM390 179h1v1h-1zM393 179h1v1h-1zM400 179h1v1h-1zM369 185h1v1h-1zM378 185h1v1h-1zM385 185h1v1h-1zM394 185h1v1h-1zM382 181h1v1h-1zM390 181h1v1h-1zM394 181h1v1h-1zM398 181h1v1h-1zM370 187h1v1h-1zM379 187h1v1h-1zM395 177h1v1h-1zM386 182h1v1h-1zM391 182h2v1h-2zM397 182h1v1h-1zM374 189h1v1h-1z"/>
<path fill="#000" d="M347 203h2v1h-2zM368 203h1v1h-1zM354 199h1v1h-1zM362 199h1v1h-1zM376 199h1v1h-1zM351 202h2v1h-2zM353 205h1v1h-1zM358 205h1v1h-1zM350 200h1v1h-1zM365 200h1v1h-1zM371 200h1v1h-1zM365 197h1v1h-1zM371 198h1v1h-1zM375 198h1v1h-1zM361 204h1v1h-1zM366 204h1v1h-1zM358 206h1v1h-1zM373 194h1v1h-1zM350 201h1v1h-1z"/>
<path fill="#000" d="M293 135h2v1h-2zM332 135h7v1h-7zM356 135h2v1h-2zM299 148h5v1h-5zM345 148h3v1h-3zM272 136h6v1h-6zM294 136h1v1h-1zM301 136h5v1h-5zM339 136h3v1h-3zM277 134h5v1h-5zM284 134h10v1h-10zM295 134h3v1h-3zM354 134h2v1h-2zM336 131h6v1h-6zM345 131h1v1h-1zM347 131h5v1h-5zM364 131h7v1h-7zM300 126h5v1h-5zM265 141h3v1h-3zM323 141h4v1h-4zM290 147h7v1h-7zM308 147h4v1h-4zM341 147h8v1h-8zM268 137h3v1h-3zM276 137h1v1h-1zM299 137h1v1h-1zM305 137h1v1h-1zM310 137h3v1h-3zM341 137h6v1h-6zM318 121h5v1h-5zM328 121h6v1h-6zM335 121h5v1h-5zM306 150h4v1h-4zM348 150h3v1h-3zM345 149h3v1h-3zM332 130h2v1h-2zM344 130h2v1h-2zM362 130h5v1h-5zM345 123h5v1h-5zM346 132h1v1h-1zM350 132h2v1h-2zM365 132h6v1h-6zM297 129h2v1h-2zM322 129h4v1h-4zM327 129h4v1h-4zM359 129h5v1h-5zM299 138h1v1h-1zM308 138h1v1h-1zM310 138h1v1h-1zM313 138h3v1h-3zM348 138h2v1h-2zM337 146h4v1h-4zM287 127h5v1h-5zM306 127h4v1h-4zM311 127h6v1h-6zM356 127h3v1h-3zM312 153h5v1h-5zM329 143h4v1h-4zM300 145h5v1h-5zM335 145h2v1h-2zM293 128h4v1h-4zM318 128h2v1h-2zM354 128h4v1h-4zM330 144h7v1h-7zM269 140h4v1h-4zM321 140h3v1h-3zM348 124h5v1h-5zM262 139h5v1h-5zM351 139h3v1h-3zM324 142h3v1h-3zM341 122h3v1h-3zM318 156h4v1h-4zM352 133h1v1h-1zM352 125h4v1h-4zM323 120h4v1h-4z"/>
<path fill="#000" d="M335 181h1v1h-1zM325 160h1v1h-1zM328 160h1v1h-1zM301 143h1v1h-1zM304 143h1v1h-1zM270 140h1v1h-1zM283 137h1v1h-1zM320 159h1v1h-1zM331 168h1v1h-1zM317 148h1v1h-1zM325 155h1v1h-1zM299 142h1v1h-1zM344 174h1v1h-1zM282 138h1v1h-1zM327 164h1v1h-1zM344 164h1v1h-1zM304 144h1v1h-1zM324 153h1v1h-1zM330 166h1v1h-1zM336 166h1v1h-1zM302 146h1v1h-1zM314 151h1v1h-1zM314 154h1v1h-1zM320 154h1v1h-1zM329 172h1v1h-1zM334 172h1v1h-1zM339 161h1v1h-1zM339 170h1v1h-1z"/>
<path fill="#000" d="M331 174h1v1h-1zM336 174h1v1h-1zM339 174h1v1h-1zM341 174h1v1h-1zM343 174h1v1h-1zM331 184h1v1h-1zM330 171h1v1h-1zM336 171h1v1h-1zM336 177h1v1h-1zM341 177h1v1h-1zM334 180h1v1h-1zM330 173h1v1h-1zM337 173h1v1h-1zM340 173h1v1h-1zM324 166h1v1h-1zM329 179h1v1h-1zM332 179h1v1h-1zM337 169h1v1h-1zM339 169h1v1h-1zM330 181h1v1h-1zM337 181h1v1h-1zM330 183h2v1h-2zM334 182h1v1h-1zM326 178h1v1h-1zM328 168h1v1h-1zM334 172h1v1h-1zM342 172h1v1h-1zM335 170h1v1h-1zM344 170h1v1h-1zM334 175h1v1h-1zM342 176h1v1h-1z"/>
<path fill="#fff" d="M381 43h12v1h-12zM380 44h15v1h-15z" />
<path fill="#fff" d="M380 44h17v1h-17z"/>
<path fill="#000" d="M381 42h11v1h-11z"/>
<path fill="#000" d="M380 43h1v1h-1zM378 45h2v1h-2zM378 44h2v1h-2zM378 46h2v1h-2z"/>
<path fill="#000" d="M394 44h2v1h-2zM392 43h2v1h-2z"/>
<path fill="#000" d="M377 50h1v1h-1zM377 49h1v1h-1zM377 48h1v1h-1zM377 51h1v1h-1zM377 47h1v1h-1z"/>
<path fill="#000" d="M377 56h1v1h-1zM376 52h1v1h-1z"/>
<path fill="#000" d="M376 61h1v1h-1zM376 64h1v1h-1zM376 67h1v1h-1zM376 57h1v1h-1zM376 63h1v1h-1zM376 60h1v1h-1zM376 66h1v1h-1zM376 59h1v1h-1zM376 62h1v1h-1zM376 58h1v1h-1zM376 65h1v1h-1z"/>
<path fill="#000" d="M372 73h2v1h-2zM369 76h1v1h-1zM373 69h1v1h-1zM370 75h1v1h-1zM373 68h2v1h-2zM371 74h1v1h-1zM375 62h1v1h-1zM372 72h2v1h-2zM374 71h2v1h-2zM375 61h1v1h-1zM373 67h2v1h-2zM375 63h1v1h-1zM373 70h1v1h-1z"/>
<path fill="#000" d="M398 47h2v1h-2zM419 62h1v1h-1zM413 57h2v1h-2zM396 45h1v1h-1zM407 51h1v1h-1zM415 58h1v1h-1zM424 67h1v1h-1zM403 49h2v1h-2zM412 56h1v1h-1zM420 63h1v1h-1zM408 52h1v1h-1zM400 48h3v1h-3zM425 68h1v1h-1zM397 46h1v1h-1zM405 50h2v1h-2zM416 59h1v1h-1zM421 64h1v1h-1zM409 53h1v1h-1zM417 60h1v1h-1zM426 69h1v1h-1zM410 54h1v1h-1zM422 65h1v1h-1zM418 61h1v1h-1zM411 55h1v1h-1zM423 66h1v1h-1z"/>
<path fill="#000" d="M399 47h1v1h-1zM397 45h1v1h-1zM398 46h1v1h-1z"/>
<path fill="#000" d="M416 58h1v1h-1zM414 57h2v1h-2zM413 56h1v1h-1zM417 59h1v1h-1z"/>
<path fill="#000" d="M421 63h1v1h-1zM423 65h1v1h-1zM420 62h1v1h-1zM422 64h1v1h-1z"/>
<path fill="#000" d="M384 58h1v1h-1zM388 58h1v1h-1zM387 56h1v1h-1zM383 61h1v1h-1zM386 68h1v1h-1zM384 64h1v1h-1zM386 67h1v1h-1zM385 57h2v1h-2zM388 57h1v1h-1zM383 60h1v1h-1zM384 63h1v1h-1zM385 66h1v1h-1zM383 59h1v1h-1z"/>
<path fill="#000" d="M392 59h1v1h-1zM399 59h1v1h-1zM377 70h2v1h-2zM397 70h1v1h-1zM381 68h2v1h-2zM410 68h1v1h-1zM371 75h2v1h-2zM374 75h4v1h-4zM392 75h1v1h-1zM403 75h1v1h-1zM392 56h1v1h-1zM394 56h3v1h-3zM399 56h1v1h-1zM402 56h2v1h-2zM405 56h3v1h-3zM377 74h1v1h-1zM392 74h1v1h-1zM392 73h1v1h-1zM404 73h1v1h-1zM402 57h1v1h-1zM397 66h3v1h-3zM402 66h2v1h-2zM369 76h2v1h-2zM372 76h6v1h-6zM403 76h1v1h-1zM392 58h1v1h-1zM409 58h1v1h-1zM387 51h2v1h-2zM397 51h1v1h-1zM390 48h1v1h-1zM383 44h4v1h-4zM379 69h1v1h-1zM406 69h2v1h-2zM413 69h1v1h-1zM377 71h1v1h-1zM397 71h1v1h-1zM405 71h1v1h-1zM392 62h1v1h-1zM397 49h1v1h-1zM388 46h2v1h-2zM390 50h1v1h-1zM392 50h1v1h-1zM395 50h2v1h-2zM398 50h1v1h-1zM381 52h1v1h-1zM383 52h1v1h-1zM386 52h1v1h-1zM377 72h1v1h-1zM397 72h1v1h-1zM404 72h1v1h-1zM403 78h1v1h-1zM390 47h1v1h-1zM403 77h1v1h-1zM392 61h1v1h-1z"/>
<path fill="#000" d="M428 74h1v1h-1zM433 84h4v1h-4zM433 82h1v1h-1zM436 82h1v1h-1zM432 80h1v1h-1zM433 85h1v1h-1zM439 85h1v1h-1zM429 75h1v1h-1zM431 78h1v1h-1zM427 73h2v1h-2zM439 88h2v1h-2zM432 81h2v1h-2zM437 81h1v1h-1zM432 79h1v1h-1zM438 86h1v1h-1zM430 76h1v1h-1zM431 77h1v1h-1zM433 83h1v1h-1zM435 83h1v1h-1z"/>
<path fill="#000" d="M412 81h1v1h-1zM420 81h1v1h-1zM420 82h1v1h-1zM412 77h1v1h-1zM422 77h1v1h-1zM421 80h2v1h-2zM413 76h1v1h-1zM420 76h2v1h-2zM412 79h1v1h-1zM420 79h1v1h-1z"/>
<path fill="#000" d="M404 86h4v1h-4zM407 88h4v1h-4zM402 84h3v1h-3zM411 91h3v1h-3zM410 90h4v1h-4zM394 78h1v1h-1zM410 89h4v1h-4zM394 80h1v1h-1zM397 80h1v1h-1zM396 81h5v1h-5zM407 87h4v1h-4zM403 85h5v1h-5zM394 79h3v1h-3zM401 82h1v1h-1zM402 83h1v1h-1z"/>
<path fill="#000" d="M392 88h9v1h-9zM392 90h9v1h-9zM392 91h9v1h-9zM396 93h3v1h-3zM397 94h2v1h-2zM391 89h10v1h-10zM394 86h5v1h-5zM392 87h8v1h-8zM393 92h7v1h-7z"/>
<path fill="#fff" d="M395 89h1v1h-1zM394 88h2v1h-2z"/>
<path fill="#000" d="M372 88h4v1h-4zM376 84h5v1h-5zM365 91h2v1h-2zM369 89h3v1h-3zM384 80h4v1h-4zM367 90h4v1h-4zM374 86h4v1h-4zM376 85h3v1h-3zM363 92h5v1h-5zM382 81h4v1h-4zM374 87h2v1h-2zM381 83h1v1h-1zM381 82h1v1h-1zM362 93h1v1h-1z"/>
<path fill="#000" d="M372 80h2v1h-2zM373 81h1v1h-1z"/>
<path fill="#000" d="M363 84h1v1h-1zM362 87h1v1h-1zM356 95h1v1h-1zM366 80h2v1h-2zM361 88h1v1h-1zM365 81h1v1h-1zM356 94h1v1h-1zM357 93h1v1h-1zM360 90h1v1h-1zM362 86h1v1h-1zM364 83h1v1h-1zM358 92h1v1h-1zM359 91h1v1h-1zM364 82h1v1h-1zM361 89h1v1h-1zM363 85h1v1h-1z"/>
<path fill="#000" d="M402 89h2v1h-2zM405 89h4v1h-4zM402 95h1v1h-1zM405 95h2v1h-2zM408 95h2v1h-2zM412 95h2v1h-2zM401 88h1v1h-1zM404 88h4v1h-4zM407 97h4v1h-4zM401 87h1v1h-1zM403 87h3v1h-3zM402 91h1v1h-1zM406 91h1v1h-1zM409 91h1v1h-1zM411 91h1v1h-1zM402 94h2v1h-2zM405 94h1v1h-1zM408 94h2v1h-2zM411 94h2v1h-2zM403 96h1v1h-1zM408 96h1v1h-1zM411 96h3v1h-3zM401 92h4v1h-4zM411 92h2v1h-2zM402 90h2v1h-2zM405 90h1v1h-1zM408 90h2v1h-2zM402 93h1v1h-1zM404 93h2v1h-2zM409 93h2v1h-2zM401 86h2v1h-2z"/>
<path fill="#000" d="M378 107h1v1h-1zM381 107h2v1h-2zM378 103h2v1h-2zM382 103h2v1h-2zM401 103h3v1h-3zM377 94h1v1h-1zM386 94h2v1h-2zM376 93h1v1h-1zM385 93h1v1h-1zM388 93h1v1h-1zM376 106h2v1h-2zM396 106h1v1h-1zM403 106h1v1h-1zM388 105h2v1h-2zM391 105h1v1h-1zM395 105h1v1h-1zM397 105h1v1h-1zM379 108h1v1h-1zM383 108h3v1h-3zM380 104h1v1h-1zM386 104h2v1h-2zM398 104h1v1h-1zM408 104h1v1h-1zM377 101h1v1h-1zM381 101h1v1h-1zM406 101h1v1h-1zM380 102h2v1h-2zM385 102h1v1h-1zM404 102h2v1h-2zM380 99h2v1h-2zM393 99h1v1h-1zM396 99h4v1h-4zM381 89h2v1h-2zM385 89h2v1h-2zM378 96h2v1h-2zM393 96h1v1h-1zM400 96h2v1h-2zM384 109h2v1h-2zM387 97h4v1h-4zM393 97h2v1h-2zM400 97h1v1h-1zM381 100h1v1h-1zM407 100h1v1h-1zM378 95h1v1h-1zM383 90h1v1h-1zM387 90h2v1h-2zM375 92h1v1h-1zM376 91h2v1h-2zM384 91h1v1h-1zM389 91h2v1h-2zM381 88h5v1h-5zM391 98h1v1h-1zM399 98h1v1h-1z"/>
<path fill="#fff" d="M418 86h15v1h-15zM416 87h18v1h-18zM414 88h21v1h-21zM413 89h23v1h-23zM413 90h24v1h-24zM413 91h25v1h-25zM413 92h26v1h-26zM413 93h27v1h-27zM414 94h28v1h-28zM414 95h29v1h-29zM414 96h8v1h-8zM432 96h12v1h-12zM414 97h3v1h-3zM441 97h4v1h-4zM444 98h3v1h-3zM446 99h3v1h-3zM449 100h1v1h-1z" />
<path fill="#000" d="M424 91h3v1h-3zM429 91h2v1h-2zM432 91h1v1h-1zM415 88h5v1h-5zM421 88h1v1h-1zM423 88h3v1h-3zM429 88h6v1h-6zM414 90h2v1h-2zM421 90h1v1h-1zM425 90h1v1h-1zM428 90h3v1h-3zM433 90h1v1h-1zM420 96h1v1h-1zM433 96h1v1h-1zM436 96h3v1h-3zM440 96h1v1h-1zM413 93h1v1h-1zM416 93h5v1h-5zM422 93h1v1h-1zM427 93h7v1h-7zM435 93h1v1h-1zM438 93h1v1h-1zM415 95h1v1h-1zM421 95h1v1h-1zM423 95h4v1h-4zM429 95h1v1h-1zM432 95h2v1h-2zM438 95h1v1h-1zM413 92h1v1h-1zM418 92h3v1h-3zM423 92h3v1h-3zM432 92h2v1h-2zM436 92h3v1h-3zM446 99h2v1h-2zM414 94h3v1h-3zM418 94h2v1h-2zM423 94h1v1h-1zM425 94h2v1h-2zM432 94h1v1h-1zM434 94h2v1h-2zM439 94h1v1h-1zM413 89h2v1h-2zM418 89h1v1h-1zM421 89h2v1h-2zM424 89h1v1h-1zM426 89h1v1h-1zM428 89h1v1h-1zM431 89h1v1h-1zM434 89h1v1h-1zM417 87h2v1h-2zM420 87h1v1h-1zM428 87h2v1h-2zM431 87h2v1h-2zM449 100h1v1h-1zM421 86h1v1h-1zM425 86h1v1h-1zM445 98h2v1h-2zM415 97h1v1h-1zM442 97h1v1h-1z"/>
<path fill="url(#chk)" d="M424 87h9v1h-9zM424 88h10v1h-10zM424 89h11v1h-11zM424 90h12v1h-12zM425 91h11v1h-11zM427 92h9v1h-9z" />
<path fill="#000" d="M420 86h13v1h-13zM415 88h2v1h-2zM417 87h3v1h-3zM413 89h2v1h-2z"/>
<path fill="#000" d="M444 100h1v1h-1zM446 100h4v1h-4zM437 92h3v1h-3zM445 101h2v1h-2zM448 101h2v1h-2zM437 94h1v1h-1zM439 94h3v1h-3zM440 97h1v1h-1zM442 97h4v1h-4zM432 87h3v1h-3zM439 96h1v1h-1zM441 96h3v1h-3zM442 99h2v1h-2zM445 99h4v1h-4zM436 93h1v1h-1zM438 93h3v1h-3zM435 90h3v1h-3zM433 88h3v1h-3zM438 95h1v1h-1zM440 95h3v1h-3zM441 98h1v1h-1zM443 98h4v1h-4zM436 91h3v1h-3zM447 102h1v1h-1zM434 89h3v1h-3zM433 86h1v1h-1z"/>
<path fill="#000" d="M439 94h3v1h-3zM431 95h12v1h-12zM419 96h25v1h-25zM414 97h31v1h-31zM414 98h5v1h-5zM441 98h6v1h-6zM442 99h8v1h-8zM444 100h7v1h-7zM445 101h6v1h-6z" />
<path fill="#fff" d="M416 99h30v1h-30zM417 100h29v1h-29zM418 101h29v1h-29zM419 102h26v1h-26zM422 103h20v1h-20z" />
<path fill="#000" d="M422 103h4v1h-4zM427 103h1v1h-1zM430 103h2v1h-2zM434 103h1v1h-1zM438 103h2v1h-2zM417 100h4v1h-4zM422 100h1v1h-1zM425 100h3v1h-3zM430 100h1v1h-1zM432 100h1v1h-1zM434 100h1v1h-1zM437 100h9v1h-9zM419 102h1v1h-1zM421 102h1v1h-1zM424 102h1v1h-1zM427 102h1v1h-1zM430 102h3v1h-3zM434 102h1v1h-1zM440 102h5v1h-5zM416 99h2v1h-2zM421 99h1v1h-1zM423 99h7v1h-7zM432 99h4v1h-4zM439 99h1v1h-1zM441 99h5v1h-5zM418 101h3v1h-3zM422 101h2v1h-2zM427 101h1v1h-1zM429 101h1v1h-1zM431 101h2v1h-2zM435 101h3v1h-3zM439 101h6v1h-6z"/>
<path fill="#000" d="M441 101h10v1h-10zM443 100h9v1h-9zM426 104h13v1h-13zM423 103h18v1h-18zM440 102h8v1h-8z"/>
<path fill="#000" d="M433 104h2v1h-2zM433 106h2v1h-2zM433 105h2v1h-2z"/>
<path fill="#fff" d="M446 99h1v1h-1z"/>
<path fill="#000" d="M418 104h1v1h-1zM416 100h1v1h-1zM414 93h1v1h-1zM416 96h1v1h-1zM418 103h1v1h-1zM416 99h1v1h-1zM414 92h1v1h-1zM420 106h1v1h-1zM419 105h1v1h-1zM414 94h1v1h-1zM417 101h1v1h-1zM415 95h1v1h-1zM421 107h1v1h-1z"/>
<path fill="#000" d="M359 93h8v1h-8zM356 94h11v1h-11zM354 95h13v1h-13zM353 96h14v1h-14zM352 97h16v1h-16zM351 98h17v1h-17zM350 99h18v1h-18zM350 100h18v1h-18zM351 101h17v1h-17zM354 102h15v1h-15zM359 103h10v1h-10zM360 104h9v1h-9zM361 105h9v1h-9zM362 106h9v1h-9zM363 107h8v1h-8zM363 108h9v1h-9zM364 109h8v1h-8zM365 110h8v1h-8zM365 111h8v1h-8zM366 112h8v1h-8zM367 113h8v1h-8zM367 114h8v1h-8zM368 115h8v1h-8zM369 116h8v1h-8zM394 116h1v1h-1zM369 117h10v1h-10zM392 117h4v1h-4zM370 118h12v1h-12zM389 118h6v1h-6zM370 119h24v1h-24zM371 120h22v1h-22zM371 121h21v1h-21zM372 122h19v1h-19zM372 123h18v1h-18zM373 124h16v1h-16zM373 125h15v1h-15zM373 126h13v1h-13zM373 127h12v1h-12zM374 128h10v1h-10zM374 129h9v1h-9zM374 130h9v1h-9zM374 131h9v1h-9zM374 132h9v1h-9zM374 133h9v1h-9zM375 134h11v1h-11zM375 135h12v1h-12zM375 136h14v1h-14zM375 137h17v1h-17zM374 138h21v1h-21zM374 139h22v1h-22zM374 140h25v1h-25zM373 141h9v1h-9zM387 141h15v1h-15zM373 142h8v1h-8zM394 142h10v1h-10zM372 143h8v1h-8zM398 143h8v1h-8zM372 144h6v1h-6zM399 144h9v1h-9zM371 145h5v1h-5zM402 145h9v1h-9zM418 145h1v1h-1zM370 146h5v1h-5zM405 146h9v1h-9zM417 146h3v1h-3zM369 147h4v1h-4zM406 147h9v1h-9zM416 147h3v1h-3zM370 148h2v1h-2zM408 148h10v1h-10zM409 149h8v1h-8zM411 150h6v1h-6zM413 151h4v1h-4zM414 152h3v1h-3zM415 153h2v1h-2zM415 154h2v1h-2zM415 155h2v1h-2zM415 156h2v1h-2zM415 157h2v1h-2z" />
<path fill="#fff" d="M364 107h1v1h-1zM367 107h1v1h-1zM377 140h1v1h-1zM384 140h1v1h-1zM387 140h1v1h-1zM394 140h1v1h-1zM397 140h1v1h-1zM379 141h1v1h-1zM389 141h1v1h-1zM392 141h1v1h-1zM399 141h1v1h-1zM354 98h1v1h-1zM357 98h1v1h-1zM364 98h1v1h-1zM359 96h1v1h-1zM362 96h1v1h-1zM374 125h1v1h-1zM377 125h1v1h-1zM384 125h1v1h-1zM374 119h1v1h-1zM377 119h1v1h-1zM384 119h1v1h-1zM387 119h1v1h-1zM379 138h1v1h-1zM382 138h1v1h-1zM389 138h1v1h-1zM392 138h1v1h-1zM352 99h1v1h-1zM359 99h1v1h-1zM362 99h1v1h-1zM377 134h1v1h-1zM384 134h1v1h-1zM412 150h1v1h-1zM372 117h1v1h-1zM369 108h1v1h-1zM372 120h1v1h-1zM379 120h1v1h-1zM382 120h1v1h-1zM389 120h1v1h-1zM374 116h1v1h-1zM409 147h1v1h-1zM412 147h1v1h-1zM374 143h1v1h-1zM377 143h1v1h-1zM404 143h1v1h-1zM364 104h1v1h-1zM367 104h1v1h-1zM377 137h1v1h-1zM384 137h1v1h-1zM387 137h1v1h-1zM379 126h1v1h-1zM382 126h1v1h-1zM374 122h1v1h-1zM377 122h1v1h-1zM384 122h1v1h-1zM387 122h1v1h-1zM359 102h1v1h-1zM362 102h1v1h-1zM379 135h1v1h-1zM382 135h1v1h-1zM357 95h1v1h-1zM364 95h1v1h-1zM369 114h1v1h-1zM372 114h1v1h-1zM377 128h1v1h-1zM354 101h1v1h-1zM357 101h1v1h-1zM364 101h1v1h-1zM362 105h1v1h-1zM407 146h1v1h-1zM367 110h1v1h-1zM379 123h1v1h-1zM382 123h1v1h-1zM379 132h1v1h-1zM362 93h1v1h-1zM414 149h1v1h-1zM379 129h1v1h-1zM377 131h1v1h-1zM369 111h1v1h-1zM402 144h1v1h-1z"/>
<path fill="#000" d="M370 136h1v1h-1zM368 142h1v1h-1zM370 142h1v1h-1zM369 131h1v1h-1zM369 143h1v1h-1zM367 149h1v1h-1zM366 147h1v1h-1zM370 132h1v1h-1zM365 148h1v1h-1zM371 137h2v1h-2zM368 138h1v1h-1zM368 144h1v1h-1zM367 104h1v1h-1zM369 139h1v1h-1zM371 139h1v1h-1zM370 110h1v1h-1zM367 145h1v1h-1zM366 103h1v1h-1zM370 128h1v1h-1zM369 108h1v1h-1zM371 133h1v1h-1zM368 146h1v1h-1zM370 140h1v1h-1zM367 141h1v1h-1zM368 106h1v1h-1zM369 135h1v1h-1zM372 134h1v1h-1zM371 129h1v1h-1z"/>
<path fill="#000" d="M347 104h1v1h-1zM345 106h1v1h-1zM347 103h2v1h-2zM343 107h2v1h-2zM345 105h2v1h-2zM342 108h1v1h-1zM349 102h1v1h-1z"/>
<path fill="#000" d="M384 114h3v1h-3zM391 110h2v1h-2zM378 116h4v1h-4zM382 115h3v1h-3zM395 106h2v1h-2zM396 105h2v1h-2zM398 103h7v1h-7zM386 112h5v1h-5zM392 108h3v1h-3zM391 111h2v1h-2zM408 101h1v1h-1zM395 107h2v1h-2zM385 113h3v1h-3zM396 104h4v1h-4zM405 102h2v1h-2zM408 100h1v1h-1zM392 109h3v1h-3z"/>
<path fill="#000" d="M397 114h4v1h-4zM395 115h3v1h-3zM399 115h2v1h-2z"/>
<path fill="#000" d="M405 110h3v1h-3zM406 109h4v1h-4zM411 105h2v1h-2zM412 102h1v1h-1zM411 106h2v1h-2zM409 107h3v1h-3zM405 111h1v1h-1zM406 108h6v1h-6zM412 101h1v1h-1zM411 104h2v1h-2zM412 100h1v1h-1zM412 103h1v1h-1z"/>
<path fill="#000" d="M417 116h2v1h-2zM432 116h2v1h-2zM430 117h2v1h-2zM423 108h1v1h-1zM429 108h1v1h-1zM426 119h1v1h-1zM432 119h1v1h-1zM426 112h1v1h-1zM433 112h1v1h-1zM433 115h1v1h-1zM422 118h3v1h-3zM432 118h1v1h-1zM416 111h1v1h-1zM416 114h1v1h-1zM429 114h1v1h-1zM433 114h1v1h-1zM429 120h1v1h-1zM419 109h1v1h-1z"/>
<path fill="#000" d="M412 132h1v1h-1zM414 132h1v1h-1zM426 132h1v1h-1zM396 129h1v1h-1zM423 129h1v1h-1zM428 129h1v1h-1zM423 139h1v1h-1zM391 155h1v1h-1zM404 155h1v1h-1zM411 155h1v1h-1zM409 131h2v1h-2zM419 131h1v1h-1zM427 131h1v1h-1zM392 154h1v1h-1zM395 154h1v1h-1zM392 128h1v1h-1zM406 128h1v1h-1zM423 137h2v1h-2zM399 125h1v1h-1zM406 125h1v1h-1zM426 125h1v1h-1zM417 133h2v1h-2zM400 158h1v1h-1zM418 145h2v1h-2zM390 156h1v1h-1zM403 156h1v1h-1zM410 156h1v1h-1zM414 138h1v1h-1zM420 138h1v1h-1zM423 138h1v1h-1zM397 153h1v1h-1zM397 150h1v1h-1zM412 140h1v1h-1zM419 140h1v1h-1zM423 140h1v1h-1zM422 142h1v1h-1zM409 141h1v1h-1zM416 141h1v1h-1zM422 141h1v1h-1zM393 157h1v1h-1zM400 157h1v1h-1zM421 143h1v1h-1zM428 127h1v1h-1zM420 144h1v1h-1zM402 126h1v1h-1zM417 126h1v1h-1zM411 159h1v1h-1z"/>
<path fill="#000" d="M351 123h2v1h-2zM362 129h6v1h-6zM348 150h2v1h-2zM345 148h3v1h-3zM353 126h1v1h-1zM347 122h4v1h-4zM345 131h1v1h-1zM347 131h3v1h-3zM360 131h1v1h-1zM356 128h6v1h-6zM349 125h4v1h-4zM349 124h4v1h-4zM345 149h2v1h-2zM362 130h6v1h-6zM352 133h1v1h-1zM345 121h2v1h-2zM345 147h3v1h-3zM345 132h1v1h-1zM350 132h1v1h-1zM354 134h2v1h-2zM356 135h1v1h-1zM355 127h1v1h-1z"/>
<path fill="#000" d="M285 236h1v1h-1zM295 236h2v1h-2zM285 237h4v1h-4zM292 237h5v1h-5zM286 238h11v1h-11zM286 239h11v1h-11zM286 240h11v1h-11zM287 241h5v1h-5z" />
<path fill="#fff" d="M287 239h1v1h-1zM289 239h1v1h-1zM292 239h1v1h-1zM295 239h1v1h-1zM288 240h1v1h-1zM292 240h1v1h-1zM287 237h2v1h-2zM290 238h2v1h-2zM293 238h1v1h-1z"/>
<path fill="#000" d="M288 244h1v1h-1zM287 242h1v1h-1zM293 258h1v1h-1zM288 247h1v1h-1zM293 261h1v1h-1zM293 267h1v1h-1zM289 248h1v1h-1zM293 264h1v1h-1zM293 270h1v1h-1zM292 256h1v1h-1zM294 274h1v1h-1zM294 271h1v1h-1zM287 241h1v1h-1zM288 246h1v1h-1zM293 260h1v1h-1zM293 263h1v1h-1zM293 269h1v1h-1zM293 266h1v1h-1zM292 255h1v1h-1zM291 253h1v1h-1zM290 251h1v1h-1zM294 273h1v1h-1zM287 243h1v1h-1zM293 262h1v1h-1zM288 245h1v1h-1zM293 259h1v1h-1zM293 265h1v1h-1zM293 268h1v1h-1zM289 249h1v1h-1zM292 254h1v1h-1zM292 257h1v1h-1zM290 250h1v1h-1zM294 272h1v1h-1zM291 252h1v1h-1z"/>
<path fill="#000" d="M290 250h1v1h-1zM291 251h1v1h-1zM290 249h1v1h-1zM289 245h1v1h-1zM290 248h1v1h-1zM288 243h1v1h-1zM289 244h1v1h-1zM289 247h1v1h-1zM288 242h1v1h-1zM291 252h1v1h-1zM289 246h1v1h-1z"/>
<path fill="#000" d="M296 248h1v1h-1zM296 245h1v1h-1zM298 254h1v1h-1zM304 270h1v1h-1zM301 265h1v1h-1zM297 252h1v1h-1zM303 268h1v1h-1zM300 260h1v1h-1zM296 241h1v1h-1zM299 258h1v1h-1zM300 263h1v1h-1zM296 244h1v1h-1zM296 247h1v1h-1zM296 250h1v1h-1zM298 253h1v1h-1zM304 269h1v1h-1zM304 272h1v1h-1zM301 264h1v1h-1zM297 251h1v1h-1zM299 257h1v1h-1zM300 259h1v1h-1zM296 246h1v1h-1zM300 262h1v1h-1zM296 243h1v1h-1zM296 249h1v1h-1zM298 255h1v1h-1zM304 271h1v1h-1zM301 266h1v1h-1zM302 267h1v1h-1zM299 256h1v1h-1zM300 261h1v1h-1zM296 242h1v1h-1z"/>
<path fill="#000" d="M298 271h1v1h-1zM297 267h1v1h-1zM298 270h1v1h-1zM298 269h1v1h-1zM297 266h1v1h-1zM298 272h1v1h-1zM297 265h1v1h-1zM297 268h1v1h-1z"/>
<path fill="#000" d="M298 274h2v1h-2zM298 278h2v1h-2zM298 277h2v1h-2zM298 273h2v1h-2zM298 276h2v1h-2zM298 272h2v1h-2zM298 275h2v1h-2z"/>
<path fill="#000" d="M293 252h1v1h-1zM292 248h1v1h-1zM294 255h1v1h-1zM295 260h1v1h-1zM296 264h1v1h-1zM293 251h1v1h-1zM291 244h1v1h-1zM296 263h1v1h-1zM292 247h1v1h-1zM295 259h1v1h-1zM291 243h1v1h-1zM294 256h1v1h-1z"/>
<path fill="#000" d="M295 251h1v1h-1zM295 254h1v1h-1zM294 248h1v1h-1zM293 245h1v1h-1zM296 257h1v1h-1zM297 260h1v1h-1z"/>
<path fill="#000" d="M293 258h1v1h-1zM298 258h1v1h-1zM293 261h1v1h-1zM289 242h1v1h-1zM295 242h1v1h-1zM296 263h1v1h-1zM292 244h1v1h-1zM296 244h1v1h-1zM291 247h1v1h-1zM294 247h1v1h-1zM296 247h1v1h-1zM294 259h1v1h-1zM299 259h1v1h-1zM294 265h1v1h-1zM298 265h1v1h-1zM295 267h1v1h-1zM291 245h2v1h-2zM295 253h3v1h-3zM293 257h1v1h-1zM289 243h1v1h-1zM292 243h1v1h-1zM292 249h1v1h-1zM294 249h1v1h-1zM294 255h1v1h-1zM295 254h1v1h-1zM295 260h1v1h-1zM297 260h1v1h-1zM293 256h1v1h-1zM296 264h1v1h-1zM295 250h1v1h-1z"/>
<path fill="#000" d="M294 265h1v1h-1zM294 268h1v1h-1zM294 271h1v1h-1zM294 267h1v1h-1zM294 264h1v1h-1zM294 270h1v1h-1zM294 263h1v1h-1zM294 269h1v1h-1zM294 266h1v1h-1zM294 272h1v1h-1zM294 262h1v1h-1z"/>
<path fill="#000" d="M296 271h1v1h-1zM296 267h1v1h-1zM296 264h1v1h-1zM296 270h1v1h-1zM296 266h1v1h-1zM296 269h1v1h-1zM296 265h1v1h-1zM296 268h1v1h-1z"/>
<path fill="#fff" d="M293 275h1v1h-1zM292 276h3v1h-3zM291 277h5v1h-5zM290 278h7v1h-7zM289 279h8v1h-8zM289 280h9v1h-9zM288 281h10v1h-10zM287 282h11v1h-11zM286 283h13v1h-13zM285 284h14v1h-14zM285 285h14v1h-14zM284 286h15v1h-15zM283 287h16v1h-16zM278 288h22v1h-22zM277 289h23v1h-23zM276 290h24v1h-24zM275 291h25v1h-25zM275 292h25v1h-25zM274 293h25v1h-25zM274 294h24v1h-24zM273 295h24v1h-24zM273 296h23v1h-23zM273 297h22v1h-22zM273 298h21v1h-21zM273 299h20v1h-20zM273 300h18v1h-18zM273 301h17v1h-17zM272 302h16v1h-16zM271 303h16v1h-16zM271 304h15v1h-15zM270 305h15v1h-15zM270 306h14v1h-14zM270 307h13v1h-13zM270 308h12v1h-12zM270 309h11v1h-11zM270 310h10v1h-10zM270 311h9v1h-9zM271 312h7v1h-7zM274 313h3v1h-3z" />
<path fill="#000" d="M285 285h1v1h-1zM284 286h1v1h-1zM292 277h1v1h-1zM287 283h1v1h-1zM289 280h1v1h-1zM293 276h1v1h-1zM287 282h1v1h-1zM288 281h1v1h-1zM290 279h1v1h-1zM283 288h1v1h-1zM291 278h1v1h-1zM284 287h1v1h-1zM286 284h1v1h-1zM294 275h1v1h-1z"/>
<path fill="#000" d="M296 277h1v1h-1zM286 287h1v1h-1zM288 285h1v1h-1zM290 283h1v1h-1zM294 279h1v1h-1zM292 281h1v1h-1z"/>
<path fill="#000" d="M275 292h2v1h-2zM274 295h2v1h-2zM279 288h6v1h-6zM273 296h2v1h-2zM275 293h2v1h-2zM278 289h6v1h-6zM273 297h1v1h-1zM277 290h2v1h-2zM274 294h2v1h-2zM276 291h2v1h-2z"/>
<path fill="#000" d="M272 313h3v1h-3zM270 308h1v1h-1zM270 311h1v1h-1zM273 300h1v1h-1zM272 302h1v1h-1zM273 297h1v1h-1zM271 312h1v1h-1zM275 314h3v1h-3zM270 310h1v1h-1zM270 307h1v1h-1zM273 296h1v1h-1zM271 305h1v1h-1zM273 299h1v1h-1zM270 306h1v1h-1zM270 309h1v1h-1zM272 303h1v1h-1zM273 298h1v1h-1zM271 304h1v1h-1zM273 301h1v1h-1z"/>
<path fill="#000" d="M287 303h2v1h-2zM288 302h2v1h-2zM294 298h2v1h-2zM278 312h2v1h-2zM292 299h3v1h-3zM279 311h2v1h-2zM297 295h2v1h-2zM282 308h2v1h-2zM285 305h2v1h-2zM283 307h2v1h-2zM286 304h2v1h-2zM290 300h4v1h-4zM289 301h3v1h-3zM277 313h2v1h-2zM296 296h2v1h-2zM281 309h2v1h-2zM295 297h2v1h-2zM280 310h2v1h-2zM284 306h2v1h-2zM277 314h1v1h-1z"/>
<path fill="#000" d="M276 307h1v1h-1zM274 306h2v1h-2zM278 310h1v1h-1zM277 309h1v1h-1zM277 308h1v1h-1zM273 305h1v1h-1zM278 311h1v1h-1z"/>
<path fill="#000" d="M272 308h2v1h-2zM271 307h1v1h-1zM274 309h1v1h-1z"/>
<path fill="#000" d="M281 293h1v1h-1zM277 296h1v1h-1zM285 289h2v1h-2zM282 292h1v1h-1zM278 295h1v1h-1z"/>
<path fill="#000" d="M288 293h1v1h-1zM284 296h1v1h-1zM283 297h1v1h-1zM280 299h1v1h-1zM276 302h1v1h-1zM287 294h1v1h-1zM279 300h1v1h-1z"/>
<path fill="#000" d="M279 306h1v1h-1zM285 301h1v1h-1zM282 303h1v1h-1zM291 296h1v1h-1zM288 298h1v1h-1z"/>
<path fill="#000" d="M279 302h1v1h-1zM273 311h1v1h-1zM277 311h1v1h-1zM293 282h1v1h-1zM273 295h1v1h-1zM276 295h1v1h-1zM290 295h1v1h-1zM294 295h1v1h-1zM272 304h1v1h-1zM275 304h1v1h-1zM277 304h1v1h-1zM280 304h1v1h-1zM285 304h1v1h-1zM282 293h1v1h-1zM290 293h1v1h-1zM298 293h1v1h-1zM292 280h2v1h-2zM289 287h2v1h-2zM287 296h1v1h-1zM291 296h1v1h-1zM278 290h1v1h-1zM286 299h1v1h-1zM289 299h1v1h-1zM281 288h1v1h-1zM287 288h1v1h-1zM295 288h1v1h-1zM270 307h1v1h-1zM282 307h1v1h-1zM291 284h2v1h-2zM293 275h1v1h-1zM277 300h1v1h-1zM283 300h1v1h-1zM271 308h1v1h-1zM293 283h1v1h-1zM291 298h1v1h-1zM287 291h1v1h-1zM295 277h1v1h-1z"/>
<path fill="#fff" d="M303 273h2v1h-2zM302 274h4v1h-4zM301 275h6v1h-6zM300 276h8v1h-8zM299 277h10v1h-10zM299 278h11v1h-11zM300 279h13v1h-13zM301 280h14v1h-14zM301 281h14v1h-14zM302 282h13v1h-13zM303 283h12v1h-12zM303 284h13v1h-13zM303 285h13v1h-13zM303 286h13v1h-13zM303 287h13v1h-13zM303 288h13v1h-13zM303 289h12v1h-12zM303 290h12v1h-12zM303 291h12v1h-12zM302 292h12v1h-12zM301 293h12v1h-12zM300 294h12v1h-12zM299 295h12v1h-12zM299 296h11v1h-11zM299 297h10v1h-10zM299 298h9v1h-9zM298 299h9v1h-9zM298 300h8v1h-8zM298 301h7v1h-7zM298 302h7v1h-7zM297 303h8v1h-8zM297 304h7v1h-7zM297 305h7v1h-7zM296 306h8v1h-8zM296 307h7v1h-7zM296 308h6v1h-6zM295 309h6v1h-6zM294 310h6v1h-6zM294 311h4v1h-4zM293 312h3v1h-3zM292 313h1v1h-1z" />
<path fill="#000" d="M293 313h2v1h-2zM309 297h1v1h-1zM307 277h2v1h-2zM295 312h2v1h-2zM314 290h1v1h-1zM311 279h3v1h-3zM308 298h1v1h-1zM306 276h1v1h-1zM315 282h1v1h-1zM315 288h1v1h-1zM292 314h1v1h-1zM315 285h1v1h-1zM309 278h2v1h-2zM298 310h2v1h-2zM300 309h2v1h-2zM306 300h1v1h-1zM305 302h1v1h-1zM307 299h1v1h-1zM314 280h2v1h-2zM304 306h1v1h-1zM314 292h1v1h-1zM303 307h1v1h-1zM304 272h1v1h-1zM302 308h1v1h-1zM315 281h1v1h-1zM305 274h1v1h-1zM306 275h1v1h-1zM315 284h1v1h-1zM313 293h1v1h-1zM315 287h1v1h-1zM304 305h1v1h-1zM305 304h1v1h-1zM311 295h1v1h-1zM312 294h1v1h-1zM314 291h1v1h-1zM305 273h1v1h-1zM315 283h1v1h-1zM315 286h1v1h-1zM310 296h1v1h-1zM315 289h1v1h-1zM297 311h1v1h-1zM305 303h1v1h-1zM306 301h1v1h-1z"/>
<path fill="#000" d="M300 280h1v1h-1zM299 278h1v1h-1zM303 287h1v1h-1zM302 285h1v1h-1zM303 290h1v1h-1zM300 279h1v1h-1zM303 286h1v1h-1zM302 284h1v1h-1zM303 289h1v1h-1zM301 282h1v1h-1zM302 283h1v1h-1zM303 288h1v1h-1zM303 291h1v1h-1zM301 281h1v1h-1z"/>
<path fill="#000" d="M303 291h5v1h-5zM303 292h5v1h-5zM304 293h3v1h-3zM304 294h3v1h-3z" />
<path fill="#000" d="M310 290h5v1h-5zM310 291h5v1h-5zM310 292h5v1h-5zM310 293h4v1h-4zM311 294h2v1h-2z" />
<path fill="#000" d="M298 302h7v1h-7zM298 303h7v1h-7zM298 304h6v1h-6zM298 305h6v1h-6zM297 306h7v1h-7zM297 307h6v1h-6zM297 308h5v1h-5zM297 309h4v1h-4zM297 310h3v1h-3z" />
<rect x="300" y="303" width="3" height="2" fill="#fff"/>
<path fill="#000" d="M299 293h6v1h-6zM300 300h1v1h-1zM302 300h3v1h-3zM297 298h3v1h-3zM304 298h3v1h-3zM299 295h2v1h-2zM303 295h4v1h-4zM296 294h1v1h-1zM299 294h2v1h-2zM303 294h3v1h-3zM307 294h1v1h-1zM299 301h1v1h-1zM302 301h1v1h-1zM304 301h2v1h-2zM297 299h1v1h-1zM300 299h1v1h-1zM302 299h1v1h-1zM304 299h2v1h-2zM299 297h1v1h-1zM303 297h1v1h-1zM306 297h1v1h-1zM300 296h1v1h-1zM304 296h1v1h-1z"/>
<path fill="#000" d="M302 282h2v1h-2zM302 285h1v1h-1zM304 285h1v1h-1zM306 285h1v1h-1zM302 280h2v1h-2zM305 280h1v1h-1zM308 280h1v1h-1zM307 286h2v1h-2zM311 286h1v1h-1zM303 283h1v1h-1zM308 283h1v1h-1zM301 281h1v1h-1zM304 281h1v1h-1zM307 281h1v1h-1zM311 281h1v1h-1zM304 287h2v1h-2zM308 287h1v1h-1zM302 284h1v1h-1zM304 284h1v1h-1zM308 284h1v1h-1zM306 289h1v1h-1zM309 288h1v1h-1zM302 279h1v1h-1z"/>
<path fill="#000" d="M310 284h1v1h-1zM310 283h1v1h-1zM309 280h1v1h-1zM311 287h1v1h-1zM311 286h1v1h-1zM309 279h1v1h-1zM312 288h1v1h-1zM310 282h1v1h-1zM310 285h1v1h-1zM309 281h1v1h-1z"/>
<path fill="#000" d="M312 286h1v1h-1zM312 283h1v1h-1zM312 289h1v1h-1zM312 282h1v1h-1zM312 285h1v1h-1zM312 281h1v1h-1zM312 288h1v1h-1zM312 284h1v1h-1zM312 287h1v1h-1z"/>
<path fill="#000" d="M329 230h20v1h-20zM348 229h13v1h-13zM314 235h48v1h-48zM314 236h12v1h-12zM360 228h17v1h-17zM310 238h5v1h-5zM314 237h9v1h-9zM310 239h4v1h-4zM310 240h3v1h-3z"/>
<path fill="#000" d="M361 233h1v1h-1zM361 230h1v1h-1zM361 236h1v1h-1zM361 229h1v1h-1zM361 235h1v1h-1zM361 232h1v1h-1zM361 228h1v1h-1zM361 231h1v1h-1zM361 234h1v1h-1z"/>
<path fill="#000" d="M307 232h1v1h-1zM307 235h1v1h-1zM307 238h1v1h-1zM315 238h1v1h-1zM308 239h1v1h-1zM314 239h1v1h-1zM307 234h1v1h-1zM307 231h1v1h-1zM307 237h1v1h-1zM309 240h5v1h-5zM307 230h1v1h-1zM307 236h1v1h-1zM307 233h1v1h-1z"/>
<path fill="#000" d="M329 232h13v1h-13zM343 232h3v1h-3zM353 232h3v1h-3zM358 232h3v1h-3zM344 233h2v1h-2zM347 233h1v1h-1zM337 231h1v1h-1z"/>
<path fill="#000" d="M348 231h1v1h-1zM348 232h1v1h-1zM348 229h1v1h-1zM348 230h1v1h-1z"/>
<path fill="#000" d="M355 230h1v1h-1zM355 231h1v1h-1zM355 232h1v1h-1z"/>
<path fill="#000" d="M325 225h2v1h-2zM328 225h1v1h-1zM330 225h1v1h-1zM332 225h2v1h-2zM311 233h1v1h-1zM316 233h1v1h-1zM319 233h1v1h-1zM313 229h1v1h-1zM318 229h1v1h-1zM320 229h1v1h-1zM324 229h1v1h-1zM326 229h2v1h-2zM315 231h1v1h-1zM320 231h1v1h-1zM323 231h1v1h-1zM326 231h1v1h-1zM313 228h1v1h-1zM317 228h1v1h-1zM320 228h1v1h-1zM324 228h1v1h-1zM329 228h1v1h-1zM311 232h1v1h-1zM315 232h1v1h-1zM319 232h1v1h-1zM327 232h1v1h-1zM324 227h1v1h-1zM330 227h1v1h-1zM314 230h1v1h-1zM318 230h1v1h-1zM320 230h1v1h-1zM324 230h2v1h-2zM327 224h2v1h-2zM335 224h1v1h-1zM335 223h1v1h-1zM311 234h1v1h-1zM316 234h1v1h-1zM318 234h1v1h-1zM337 222h3v1h-3zM324 226h1v1h-1zM330 226h1v1h-1zM340 221h1v1h-1z"/>
<path fill="#fff" d="M361 228h17v1h-17zM361 229h19v1h-19zM361 230h21v1h-21zM361 231h22v1h-22zM361 232h23v1h-23zM361 233h23v1h-23zM361 234h24v1h-24zM361 235h25v1h-25zM369 236h17v1h-17zM370 237h16v1h-16zM371 238h15v1h-15zM372 239h14v1h-14zM372 240h14v1h-14zM373 241h13v1h-13zM373 242h13v1h-13zM372 243h14v1h-14zM372 244h14v1h-14zM371 245h15v1h-15zM370 246h15v1h-15zM368 247h17v1h-17zM367 248h18v1h-18zM362 249h22v1h-22zM358 250h25v1h-25zM358 251h24v1h-24zM357 252h24v1h-24zM357 253h23v1h-23zM357 254h22v1h-22zM358 255h20v1h-20zM359 256h17v1h-17zM360 257h15v1h-15zM361 258h7v1h-7z" />
<path fill="#000" d="M361 257h1v1h-1zM365 257h2v1h-2zM368 257h2v1h-2zM371 257h1v1h-1zM373 257h2v1h-2zM372 239h2v1h-2zM375 239h2v1h-2zM383 239h3v1h-3zM369 248h2v1h-2zM372 248h1v1h-1zM375 248h1v1h-1zM377 248h1v1h-1zM379 248h1v1h-1zM381 248h1v1h-1zM384 248h1v1h-1zM367 253h1v1h-1zM371 253h1v1h-1zM376 253h1v1h-1zM373 241h1v1h-1zM376 241h1v1h-1zM378 241h1v1h-1zM382 241h4v1h-4zM363 233h2v1h-2zM368 233h1v1h-1zM370 233h1v1h-1zM375 233h1v1h-1zM379 233h1v1h-1zM381 233h2v1h-2zM357 252h1v1h-1zM359 252h1v1h-1zM363 252h1v1h-1zM367 252h1v1h-1zM370 252h3v1h-3zM374 252h1v1h-1zM378 252h1v1h-1zM362 229h1v1h-1zM365 229h1v1h-1zM367 229h1v1h-1zM370 229h2v1h-2zM374 229h2v1h-2zM377 229h1v1h-1zM361 255h1v1h-1zM365 255h1v1h-1zM367 255h2v1h-2zM372 255h1v1h-1zM375 255h3v1h-3zM364 235h2v1h-2zM371 235h1v1h-1zM376 235h1v1h-1zM379 235h1v1h-1zM382 235h1v1h-1zM384 235h1v1h-1zM362 232h1v1h-1zM364 232h4v1h-4zM370 232h1v1h-1zM375 232h2v1h-2zM378 232h1v1h-1zM380 232h1v1h-1zM382 232h1v1h-1zM379 244h1v1h-1zM383 244h2v1h-2zM372 237h1v1h-1zM375 237h2v1h-2zM378 237h1v1h-1zM381 237h1v1h-1zM359 251h1v1h-1zM361 251h2v1h-2zM376 251h1v1h-1zM380 251h1v1h-1zM364 249h1v1h-1zM368 249h1v1h-1zM371 249h3v1h-3zM376 249h1v1h-1zM361 230h2v1h-2zM364 230h3v1h-3zM370 230h3v1h-3zM378 230h1v1h-1zM380 230h2v1h-2zM370 246h1v1h-1zM376 246h1v1h-1zM380 246h1v1h-1zM382 246h1v1h-1zM373 243h1v1h-1zM377 243h1v1h-1zM380 243h1v1h-1zM385 243h1v1h-1zM357 254h4v1h-4zM362 254h1v1h-1zM365 254h1v1h-1zM367 254h2v1h-2zM372 254h1v1h-1zM375 254h1v1h-1zM362 231h2v1h-2zM365 231h2v1h-2zM369 231h1v1h-1zM371 231h1v1h-1zM374 231h1v1h-1zM377 231h1v1h-1zM372 240h2v1h-2zM377 240h1v1h-1zM384 240h1v1h-1zM369 236h1v1h-1zM371 236h1v1h-1zM376 236h1v1h-1zM380 236h1v1h-1zM383 236h2v1h-2zM364 258h2v1h-2zM367 258h1v1h-1zM365 228h1v1h-1zM369 228h3v1h-3zM374 228h1v1h-1zM369 247h2v1h-2zM372 247h1v1h-1zM378 247h1v1h-1zM384 247h1v1h-1zM375 245h1v1h-1zM378 245h1v1h-1zM361 250h1v1h-1zM366 250h1v1h-1zM368 250h1v1h-1zM378 250h1v1h-1zM380 250h2v1h-2zM360 256h2v1h-2zM365 256h2v1h-2zM368 256h1v1h-1zM375 256h1v1h-1zM371 238h2v1h-2zM374 238h1v1h-1zM380 238h1v1h-1zM384 238h1v1h-1zM363 234h2v1h-2zM368 234h1v1h-1zM370 234h1v1h-1zM372 234h1v1h-1zM374 234h1v1h-1zM376 234h5v1h-5zM375 242h1v1h-1zM378 242h1v1h-1z"/>
<path fill="#000" d="M376 229h1v1h-1zM376 230h1v1h-1zM376 227h1v1h-1zM376 228h1v1h-1z"/>
<path fill="#000" d="M379 229h2v1h-2zM379 230h4v1h-4zM383 232h2v1h-2zM381 231h3v1h-3zM385 235h1v1h-1zM385 236h2v1h-2zM384 234h2v1h-2zM384 233h1v1h-1zM386 237h1v1h-1z"/>
<path fill="#000" d="M386 239h1v1h-1zM386 245h1v1h-1zM386 242h1v1h-1zM386 238h1v1h-1zM385 247h1v1h-1zM386 241h1v1h-1zM386 244h1v1h-1zM386 240h1v1h-1zM386 237h1v1h-1zM386 243h1v1h-1zM386 246h1v1h-1zM386 236h1v1h-1z"/>
<path fill="#000" d="M381 247h4v1h-4zM380 248h5v1h-5zM380 249h4v1h-4zM380 250h4v1h-4zM379 251h4v1h-4zM379 252h3v1h-3zM378 253h3v1h-3zM377 254h3v1h-3zM376 255h3v1h-3zM376 256h2v1h-2zM376 257h1v1h-1z" />
<path fill="#000" d="M363 236h6v1h-6zM369 247h3v1h-3zM372 240h2v1h-2zM371 246h2v1h-2zM373 241h1v1h-1zM373 244h1v1h-1zM370 238h2v1h-2zM364 249h3v1h-3zM367 248h2v1h-2zM370 248h1v1h-1zM362 250h2v1h-2zM369 237h2v1h-2zM371 239h2v1h-2zM372 245h2v1h-2zM373 243h1v1h-1zM373 242h1v1h-1z"/>
<path fill="#000" d="M376 241h1v1h-1zM376 244h1v1h-1zM376 237h1v1h-1zM376 243h1v1h-1zM376 240h1v1h-1zM376 239h1v1h-1zM376 242h1v1h-1zM376 238h1v1h-1z"/>
<path fill="#000" d="M357 251h1v1h-1zM357 252h2v1h-2zM357 253h3v1h-3zM357 254h4v1h-4zM357 255h4v1h-4zM358 256h4v1h-4zM359 257h2v1h-2z" />
<path fill="#000" d="M368 251h2v1h-2zM366 252h4v1h-4zM366 253h4v1h-4zM367 254h2v1h-2zM367 255h1v1h-1z" />
<path fill="#000" d="M357 260h3v1h-3zM362 260h3v1h-3zM364 261h3v1h-3zM360 259h4v1h-4z"/>
<path fill="#000" d="M337 251h2v1h-2zM351 242h2v1h-2zM342 247h4v1h-4zM328 257h2v1h-2zM333 253h2v1h-2zM319 263h2v1h-2zM349 244h2v1h-2zM326 258h2v1h-2zM355 239h3v1h-3zM356 236h2v1h-2zM312 268h2v1h-2zM310 269h2v1h-2zM340 249h2v1h-2zM356 237h2v1h-2zM331 255h2v1h-2zM347 245h2v1h-2zM323 260h3v1h-3zM338 250h3v1h-3zM353 241h2v1h-2zM322 261h2v1h-2zM345 246h3v1h-3zM314 266h2v1h-2zM317 265h2v1h-2zM334 252h3v1h-3zM314 267h1v1h-1zM332 254h1v1h-1z"/>
<path fill="#000" d="M346 258h3v1h-3zM329 268h4v1h-4zM336 264h3v1h-3zM338 263h4v1h-4zM321 274h3v1h-3zM322 273h4v1h-4zM329 269h3v1h-3zM342 260h4v1h-4zM345 259h3v1h-3zM332 266h4v1h-4zM335 265h3v1h-3zM325 271h4v1h-4zM352 255h4v1h-4zM317 276h4v1h-4zM348 257h3v1h-3zM339 262h4v1h-4zM355 253h3v1h-3zM310 278h6v1h-6zM327 270h3v1h-3zM319 275h4v1h-4zM349 256h4v1h-4zM314 277h5v1h-5zM341 261h3v1h-3zM332 267h3v1h-3zM324 272h4v1h-4z"/>
<path fill="#000" d="M328 268h1v1h-1zM349 256h1v1h-1zM351 253h1v1h-1zM330 266h1v1h-1zM321 272h1v1h-1zM341 259h1v1h-1zM322 271h1v1h-1zM338 261h1v1h-1zM340 258h1v1h-1z"/>
<path fill="#000" d="M406 210h2v1h-2zM403 212h1v1h-1zM381 224h1v1h-1zM392 218h2v1h-2zM410 208h2v1h-2zM399 214h1v1h-1zM413 206h3v1h-3zM401 213h2v1h-2zM377 226h2v1h-2zM390 219h3v1h-3zM407 209h1v1h-1zM409 209h1v1h-1zM418 203h2v1h-2zM398 215h1v1h-1zM387 221h1v1h-1zM388 220h1v1h-1zM417 204h1v1h-1zM394 217h1v1h-1zM395 216h1v1h-1zM397 216h1v1h-1zM384 222h1v1h-1zM386 222h1v1h-1zM405 211h1v1h-1zM412 207h1v1h-1zM383 223h1v1h-1zM379 225h1v1h-1zM381 225h1v1h-1zM422 202h1v1h-1z"/>
<path fill="#000" d="M398 226h1v1h-1zM401 226h3v1h-3zM416 216h2v1h-2zM420 216h4v1h-4zM401 225h1v1h-1zM403 225h5v1h-5zM419 217h2v1h-2zM425 212h1v1h-1zM429 212h2v1h-2zM429 209h1v1h-1zM431 209h1v1h-1zM433 209h4v1h-4zM430 211h3v1h-3zM436 208h3v1h-3zM422 213h2v1h-2zM426 213h4v1h-4zM391 232h4v1h-4zM388 233h4v1h-4zM397 228h4v1h-4zM385 235h3v1h-3zM388 234h3v1h-3zM390 231h1v1h-1zM392 231h4v1h-4zM408 221h1v1h-1zM395 230h2v1h-2zM412 220h3v1h-3zM405 222h1v1h-1zM407 222h6v1h-6zM397 227h1v1h-1zM401 227h3v1h-3zM407 223h2v1h-2zM410 219h3v1h-3zM415 219h3v1h-3zM402 224h6v1h-6zM425 214h2v1h-2zM428 210h1v1h-1zM423 215h2v1h-2zM440 206h3v1h-3zM438 207h1v1h-1zM417 218h2v1h-2zM397 229h1v1h-1z"/>
<path fill="#000" d="M337 217h1v1h-1zM344 217h1v1h-1zM326 220h1v1h-1zM326 219h1v1h-1z"/>
<path fill="#000" d="M174 184h8v1h-8zM160 188h12v1h-12zM198 188h6v1h-6zM171 187h15v1h-15zM191 187h8v1h-8zM176 186h5v1h-5zM185 186h7v1h-7zM183 183h9v1h-9zM160 189h4v1h-4zM203 189h5v1h-5z"/>
<path fill="#fff" d="M186 185h1v1h-1zM189 185h1v1h-1z"/>
<path fill="#000" d="M259 153h4v1h-4zM268 153h2v1h-2zM271 153h2v1h-2zM275 153h2v1h-2zM278 153h2v1h-2zM283 153h3v1h-3zM276 152h2v1h-2zM257 149h2v1h-2zM280 154h1v1h-1zM277 151h2v1h-2zM259 150h1v1h-1zM270 150h1v1h-1z"/>
</svg>
</body></html>
